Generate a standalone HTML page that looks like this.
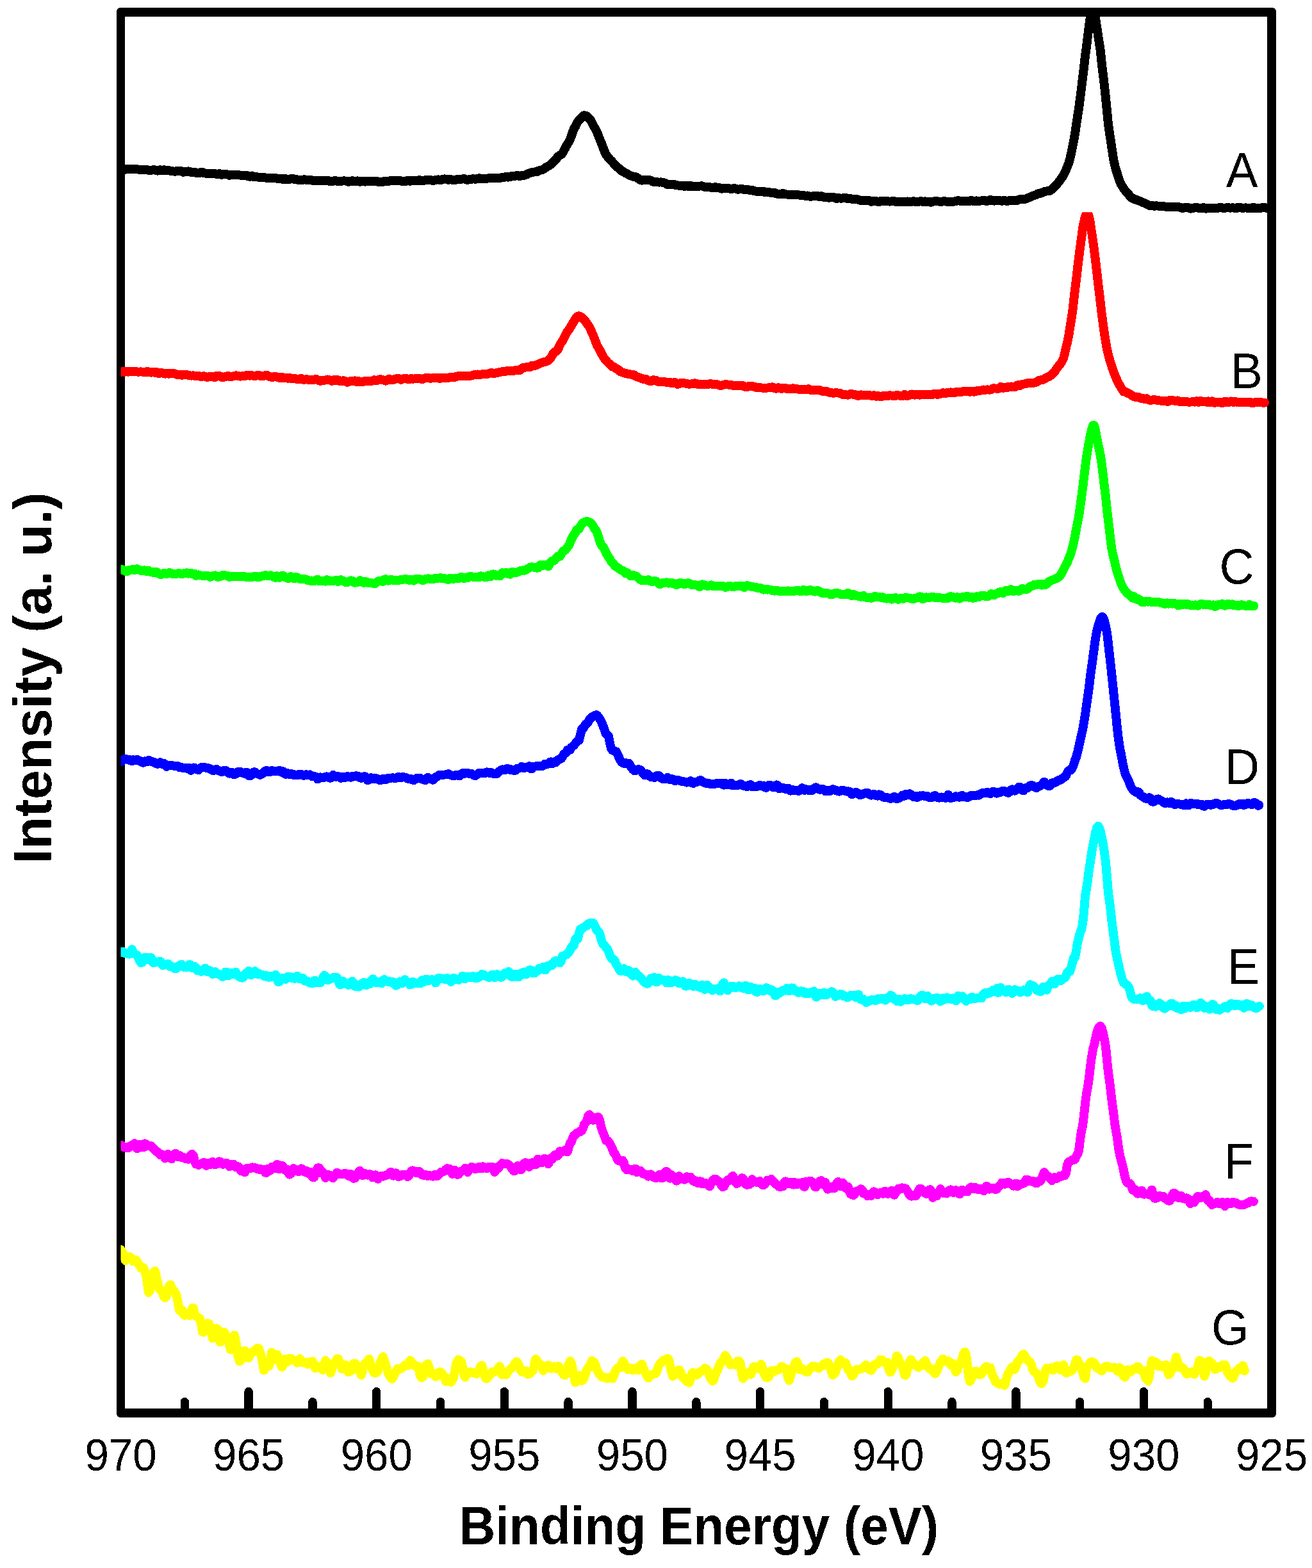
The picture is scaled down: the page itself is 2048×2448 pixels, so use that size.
<!DOCTYPE html>
<html lang="en"><head><meta charset="utf-8"><title>Binding Energy spectra</title>
<style>
html,body{margin:0;padding:0;background:#fff;}
body{width:2048px;height:2448px;overflow:hidden;}
svg{display:block;}
text{font-family:"Liberation Sans",sans-serif;fill:#000;}
.tick{font-size:69.8px;text-anchor:middle;}
.lab{font-size:78.5px;}
.ttl{font-weight:bold;text-anchor:middle;}
</style></head><body>
<svg width="2048" height="2448" viewBox="0 0 2048 2448">
<rect x="0" y="0" width="2048" height="2448" fill="#fff"/>
<defs>
<filter id="bin" x="0" y="0" width="2048" height="2448" filterUnits="userSpaceOnUse" color-interpolation-filters="sRGB"><feComponentTransfer><feFuncA type="discrete" tableValues="0 1"/></feComponentTransfer></filter>
<clipPath id="plot"><rect x="188.5" y="19.0" width="1796.5" height="2187.0"/></clipPath>
<clipPath id="clipB"><rect x="188.5" y="331.2" width="1796.5" height="1874.8"/></clipPath>
</defs>

<g shape-rendering="crispEdges">
<path fill="#000" fill-rule="evenodd" d="M188 12 H1986 A6 6 0 0 1 1992 18 V2207 A6 6 0 0 1 1986 2213 H188 A6 6 0 0 1 182 2207 V18 A6 6 0 0 1 188 12 Z M195 26 V2199 H1978 V26 Z"/>
<path d="M288.3 2206.0 V2188.7 M388.1 2206.0 V2172.7 M487.9 2206.0 V2188.7 M587.7 2206.0 V2172.7 M687.5 2206.0 V2188.7 M787.3 2206.0 V2172.7 M887.1 2206.0 V2188.7 M986.9 2206.0 V2172.7 M1086.8 2206.0 V2188.7 M1186.6 2206.0 V2172.7 M1286.4 2206.0 V2188.7 M1386.2 2206.0 V2172.7 M1486.0 2206.0 V2188.7 M1585.8 2206.0 V2172.7 M1685.6 2206.0 V2188.7 M1785.4 2206.0 V2172.7 M1885.2 2206.0 V2188.7" fill="none" stroke="#000" stroke-width="13.4" stroke-linecap="round"/>
</g>
<g fill="none" stroke-width="14" stroke-linejoin="round" stroke-linecap="round" shape-rendering="crispEdges">
<path clip-path="url(#plot)" stroke="#000000" d="M188.0 263.7 L190.0 263.0 L192.0 263.1 L194.0 263.7 L196.0 264.6 L198.0 263.9 L200.0 263.6 L202.0 263.6 L204.0 264.3 L206.0 264.4 L208.0 264.0 L210.0 264.0 L212.0 264.2 L214.0 264.4 L216.0 264.5 L218.0 264.8 L220.0 265.1 L222.0 264.8 L224.0 264.9 L226.0 265.0 L228.0 264.9 L230.0 265.2 L232.0 265.7 L234.0 265.5 L236.0 265.5 L238.0 265.5 L240.0 265.1 L242.0 265.5 L244.0 266.3 L246.0 266.6 L248.0 266.1 L250.0 265.3 L252.0 265.9 L254.0 265.7 L256.0 265.2 L258.0 266.1 L260.0 266.0 L262.0 265.5 L264.0 266.3 L266.0 266.9 L268.0 267.3 L270.0 267.4 L272.0 267.6 L274.0 267.6 L276.0 266.7 L278.0 266.8 L280.0 267.4 L282.0 266.9 L284.0 267.6 L286.0 268.7 L288.0 267.8 L290.0 267.6 L292.0 267.9 L294.0 267.4 L296.0 267.7 L298.0 268.5 L300.0 269.5 L302.0 269.4 L304.0 268.9 L306.0 269.9 L308.0 270.4 L310.0 270.5 L312.0 269.5 L314.0 268.9 L316.0 268.7 L318.0 270.0 L320.0 270.5 L322.0 270.6 L324.0 271.3 L326.0 271.3 L328.0 270.9 L330.0 271.0 L332.0 271.0 L334.0 271.0 L336.0 271.3 L338.0 271.7 L340.0 272.0 L342.0 271.1 L344.0 271.6 L346.0 272.7 L348.0 272.3 L350.0 272.2 L352.0 272.2 L354.0 272.2 L356.0 272.9 L358.0 273.8 L360.0 273.2 L362.0 272.8 L364.0 272.7 L366.0 273.3 L368.0 273.3 L370.0 273.0 L372.0 273.2 L374.0 273.4 L376.0 273.7 L378.0 274.0 L380.0 274.0 L382.0 273.8 L384.0 273.6 L386.0 274.4 L388.0 275.5 L390.0 275.7 L392.0 275.1 L394.0 274.5 L396.0 276.1 L398.0 276.5 L400.0 276.3 L402.0 276.4 L404.0 276.7 L406.0 277.2 L408.0 277.2 L410.0 277.0 L412.0 276.9 L414.0 277.4 L416.0 277.9 L418.0 278.3 L420.0 277.8 L422.0 277.6 L424.0 277.6 L426.0 278.2 L428.0 278.3 L430.0 278.1 L432.0 278.5 L434.0 279.0 L436.0 279.4 L438.0 278.9 L440.0 279.3 L442.0 280.2 L444.0 279.0 L446.0 279.1 L448.0 280.0 L450.0 280.0 L452.0 279.7 L454.0 279.1 L456.0 278.8 L458.0 279.3 L460.0 280.2 L462.0 280.0 L464.0 280.4 L466.0 281.1 L468.0 280.9 L470.0 281.0 L472.0 281.1 L474.0 280.4 L476.0 280.4 L478.0 280.8 L480.0 280.9 L482.0 280.8 L484.0 280.6 L486.0 281.3 L488.0 281.7 L490.0 281.8 L492.0 281.9 L494.0 281.9 L496.0 281.8 L498.0 281.6 L500.0 281.6 L502.0 281.6 L504.0 281.7 L506.0 281.9 L508.0 282.0 L510.0 281.6 L512.0 282.0 L514.0 282.8 L516.0 282.7 L518.0 282.7 L520.0 282.7 L522.0 282.1 L524.0 282.2 L526.0 282.8 L528.0 283.2 L530.0 283.3 L532.0 283.1 L534.0 282.6 L536.0 282.4 L538.0 282.4 L540.0 282.6 L542.0 283.2 L544.0 283.9 L546.0 283.3 L548.0 282.7 L550.0 282.3 L552.0 282.7 L554.0 283.1 L556.0 283.4 L558.0 282.4 L560.0 282.8 L562.0 283.9 L564.0 283.2 L566.0 283.1 L568.0 283.3 L570.0 283.6 L572.0 283.3 L574.0 282.6 L576.0 282.6 L578.0 282.8 L580.0 283.0 L582.0 282.9 L584.0 282.7 L586.0 282.5 L588.0 282.9 L590.0 283.6 L592.0 284.5 L594.0 284.3 L596.0 284.0 L598.0 283.7 L600.0 282.9 L602.0 282.7 L604.0 282.8 L606.0 282.8 L608.0 282.5 L610.0 282.2 L612.0 282.0 L614.0 282.0 L616.0 282.1 L618.0 282.3 L620.0 282.0 L622.0 281.6 L624.0 282.1 L626.0 282.6 L628.0 282.9 L630.0 282.5 L632.0 282.7 L634.0 283.0 L636.0 281.9 L638.0 282.0 L640.0 282.9 L642.0 282.4 L644.0 282.1 L646.0 281.9 L648.0 282.1 L650.0 282.2 L652.0 282.1 L654.0 281.2 L656.0 281.4 L658.0 282.1 L660.0 282.2 L662.0 281.8 L664.0 281.3 L666.0 281.5 L668.0 281.3 L670.0 281.0 L672.0 281.1 L674.0 281.5 L676.0 281.8 L678.0 281.5 L680.0 281.1 L682.0 280.6 L684.0 280.4 L686.0 280.7 L688.0 281.1 L690.0 280.2 L692.0 279.7 L694.0 279.4 L696.0 279.6 L698.0 280.1 L700.0 280.7 L702.0 280.2 L704.0 280.3 L706.0 280.7 L708.0 280.9 L710.0 280.9 L712.0 280.6 L714.0 280.0 L716.0 279.9 L718.0 280.2 L720.0 279.9 L722.0 279.4 L724.0 279.0 L726.0 279.8 L728.0 280.5 L730.0 280.9 L732.0 280.1 L734.0 279.8 L736.0 279.8 L738.0 279.3 L740.0 279.4 L742.0 279.7 L744.0 279.2 L746.0 278.7 L748.0 278.3 L750.0 279.1 L752.0 279.2 L754.0 278.9 L756.0 279.4 L758.0 279.3 L760.0 278.9 L762.0 278.4 L764.0 278.2 L766.0 278.1 L768.0 277.7 L770.0 277.5 L772.0 277.6 L774.0 277.5 L776.0 277.5 L778.0 277.6 L780.0 277.9 L782.0 277.6 L784.0 277.0 L786.0 277.0 L788.0 276.5 L790.0 275.8 L792.0 276.5 L794.0 276.5 L796.0 276.0 L798.0 275.3 L800.0 275.2 L802.0 275.3 L804.0 274.7 L806.0 274.1 L808.0 273.7 L810.0 274.7 L812.0 274.7 L814.0 274.2 L816.0 274.2 L818.0 273.9 L820.0 273.4 L822.0 272.5 L824.0 271.4 L826.0 270.4 L828.0 269.8 L830.0 269.3 L832.0 268.7 L834.0 268.5 L836.0 268.3 L838.0 268.1 L840.0 266.9 L842.0 266.1 L844.0 265.6 L846.0 265.3 L848.0 264.3 L850.0 263.0 L852.0 261.4 L854.0 260.3 L856.0 259.4 L858.0 258.1 L860.0 256.4 L862.0 254.4 L864.0 252.3 L866.0 250.5 L868.0 248.7 L870.0 245.6 L872.0 243.7 L874.0 242.4 L876.0 241.5 L878.0 239.1 L880.0 235.6 L882.0 231.9 L884.0 227.8 L886.0 224.4 L888.0 221.4 L890.0 217.3 L892.0 212.0 L894.0 205.9 L896.0 200.8 L898.0 198.1 L900.0 193.6 L902.0 190.0 L904.0 187.6 L906.0 185.3 L908.0 183.2 L910.0 181.1 L911.6 180.2 L914.0 180.5 L916.0 181.2 L918.0 183.3 L920.0 185.6 L922.0 187.4 L924.0 191.3 L926.0 195.8 L928.0 199.1 L930.0 202.2 L932.0 206.6 L934.0 211.5 L936.0 216.7 L938.0 221.6 L940.0 226.3 L942.0 231.9 L944.0 237.1 L946.0 241.3 L948.0 244.0 L950.0 246.4 L952.0 249.1 L954.0 250.7 L956.0 252.9 L958.0 255.2 L960.0 257.6 L962.0 259.6 L964.0 261.3 L966.0 262.6 L968.0 264.7 L970.0 266.8 L972.0 267.4 L974.0 268.6 L976.0 270.0 L978.0 270.8 L980.0 272.0 L982.0 273.2 L984.0 274.1 L986.0 274.9 L988.0 275.6 L990.0 275.8 L992.0 276.3 L994.0 276.9 L996.0 278.4 L998.0 280.0 L1000.0 281.3 L1002.0 281.6 L1004.0 281.2 L1006.0 280.7 L1008.0 280.7 L1010.0 280.9 L1012.0 281.2 L1014.0 281.1 L1016.0 281.8 L1018.0 282.9 L1020.0 284.0 L1022.0 284.1 L1024.0 283.9 L1026.0 284.3 L1028.0 284.5 L1030.0 284.5 L1032.0 284.4 L1034.0 284.7 L1036.0 285.3 L1038.0 285.6 L1040.0 286.8 L1042.0 288.2 L1044.0 288.5 L1046.0 288.4 L1048.0 288.0 L1050.0 287.6 L1052.0 288.0 L1054.0 288.8 L1056.0 289.0 L1058.0 289.4 L1060.0 289.7 L1062.0 289.8 L1064.0 289.7 L1066.0 289.8 L1068.0 290.8 L1070.0 290.6 L1072.0 289.8 L1074.0 290.8 L1076.0 290.7 L1078.0 289.9 L1080.0 290.8 L1082.0 291.0 L1084.0 290.9 L1086.0 291.3 L1088.0 291.3 L1090.0 290.9 L1092.0 290.6 L1094.0 290.4 L1096.0 290.4 L1098.0 291.3 L1100.0 291.8 L1102.0 292.1 L1104.0 292.2 L1106.0 292.2 L1108.0 292.2 L1110.0 292.7 L1112.0 293.1 L1114.0 293.2 L1116.0 292.2 L1118.0 292.4 L1120.0 293.1 L1122.0 292.7 L1124.0 293.5 L1126.0 294.7 L1128.0 294.4 L1130.0 294.2 L1132.0 294.1 L1134.0 293.8 L1136.0 294.0 L1138.0 294.3 L1140.0 294.7 L1142.0 294.8 L1144.0 294.5 L1146.0 294.1 L1148.0 294.5 L1150.0 295.4 L1152.0 295.7 L1154.0 295.5 L1156.0 295.1 L1158.0 295.1 L1160.0 295.6 L1162.0 296.1 L1164.0 296.2 L1166.0 296.2 L1168.0 296.2 L1170.0 296.7 L1172.0 296.8 L1174.0 296.8 L1176.0 297.7 L1178.0 298.3 L1180.0 298.6 L1182.0 298.6 L1184.0 298.7 L1186.0 298.7 L1188.0 298.5 L1190.0 298.6 L1192.0 299.0 L1194.0 300.4 L1196.0 300.5 L1198.0 299.9 L1200.0 299.9 L1202.0 300.5 L1204.0 301.2 L1206.0 301.1 L1208.0 301.1 L1210.0 301.3 L1212.0 302.5 L1214.0 302.7 L1216.0 302.5 L1218.0 303.3 L1220.0 302.8 L1222.0 301.6 L1224.0 302.9 L1226.0 303.4 L1228.0 303.5 L1230.0 303.5 L1232.0 303.8 L1234.0 304.1 L1236.0 304.3 L1238.0 304.3 L1240.0 304.2 L1242.0 303.9 L1244.0 304.0 L1246.0 304.3 L1248.0 304.6 L1250.0 304.7 L1252.0 304.7 L1254.0 305.0 L1256.0 305.5 L1258.0 305.9 L1260.0 305.5 L1262.0 305.8 L1264.0 306.6 L1266.0 306.7 L1268.0 306.5 L1270.0 306.2 L1272.0 306.5 L1274.0 306.1 L1276.0 305.6 L1278.0 307.0 L1280.0 306.9 L1282.0 306.1 L1284.0 306.8 L1286.0 307.7 L1288.0 308.4 L1290.0 308.1 L1292.0 308.3 L1294.0 308.7 L1296.0 308.3 L1298.0 308.3 L1300.0 308.5 L1302.0 308.2 L1304.0 309.0 L1306.0 310.1 L1308.0 309.4 L1310.0 309.3 L1312.0 309.6 L1314.0 309.6 L1316.0 309.3 L1318.0 308.7 L1320.0 309.0 L1322.0 309.7 L1324.0 310.4 L1326.0 309.8 L1328.0 310.1 L1330.0 310.8 L1332.0 311.2 L1334.0 311.3 L1336.0 311.1 L1338.0 311.1 L1340.0 311.8 L1342.0 312.6 L1344.0 312.6 L1346.0 312.6 L1348.0 312.6 L1350.0 313.3 L1352.0 313.5 L1354.0 313.3 L1356.0 313.0 L1358.0 313.7 L1360.0 314.9 L1362.0 314.4 L1364.0 314.2 L1366.0 314.3 L1368.0 314.2 L1370.0 314.7 L1372.0 315.4 L1374.0 314.2 L1376.0 313.8 L1378.0 313.9 L1380.0 313.9 L1382.0 313.8 L1384.0 313.6 L1386.0 314.3 L1388.0 314.5 L1390.0 314.5 L1392.0 314.4 L1394.0 314.3 L1396.0 314.2 L1398.0 314.9 L1400.0 315.1 L1402.0 315.0 L1404.0 315.1 L1406.0 315.2 L1408.0 315.2 L1410.0 315.0 L1412.0 314.8 L1414.0 314.6 L1416.0 314.5 L1418.0 314.8 L1420.0 315.3 L1422.0 314.9 L1424.0 314.6 L1426.0 314.3 L1428.0 314.7 L1430.0 314.9 L1432.0 314.9 L1434.0 314.8 L1436.0 314.4 L1438.0 314.1 L1440.0 314.8 L1442.0 314.8 L1444.0 314.5 L1446.0 314.8 L1448.0 314.6 L1450.0 314.5 L1452.0 315.6 L1454.0 315.6 L1456.0 314.9 L1458.0 314.4 L1460.0 314.3 L1462.0 314.5 L1464.0 314.4 L1466.0 314.6 L1468.0 315.0 L1470.0 314.7 L1472.0 314.4 L1474.0 314.1 L1476.0 314.4 L1478.0 314.8 L1480.0 315.2 L1482.0 315.2 L1484.0 315.0 L1486.0 314.8 L1488.0 314.7 L1490.0 314.4 L1492.0 314.0 L1494.0 313.4 L1496.0 313.3 L1498.0 313.5 L1500.0 314.2 L1502.0 314.4 L1504.0 314.3 L1506.0 314.4 L1508.0 314.2 L1510.0 313.9 L1512.0 314.4 L1514.0 313.9 L1516.0 313.0 L1518.0 313.6 L1520.0 314.0 L1522.0 314.3 L1524.0 313.4 L1526.0 313.6 L1528.0 314.3 L1530.0 313.6 L1532.0 313.4 L1534.0 313.3 L1536.0 312.7 L1538.0 313.1 L1540.0 314.0 L1542.0 313.5 L1544.0 312.7 L1546.0 312.0 L1548.0 312.9 L1550.0 313.4 L1552.0 313.6 L1554.0 312.9 L1556.0 312.7 L1558.0 312.7 L1560.0 313.0 L1562.0 313.4 L1564.0 313.7 L1566.0 313.3 L1568.0 313.2 L1570.0 313.5 L1572.0 313.8 L1574.0 313.5 L1576.0 313.0 L1578.0 313.1 L1580.0 313.1 L1582.0 313.0 L1584.0 312.6 L1586.0 312.6 L1588.0 312.7 L1590.0 311.8 L1592.0 311.2 L1594.0 310.7 L1596.0 310.8 L1598.0 310.8 L1600.0 310.7 L1602.0 310.1 L1604.0 309.3 L1606.0 308.6 L1608.0 307.9 L1610.0 306.8 L1612.0 305.6 L1614.0 305.3 L1616.0 304.6 L1618.0 303.6 L1620.0 302.4 L1622.0 301.9 L1624.0 301.7 L1626.0 301.0 L1628.0 300.2 L1630.0 299.4 L1632.0 298.6 L1634.0 298.4 L1636.0 298.4 L1638.0 298.1 L1640.0 297.0 L1642.0 295.5 L1644.0 293.5 L1646.0 291.5 L1648.0 289.7 L1650.0 287.2 L1652.0 285.0 L1654.0 282.6 L1656.0 279.6 L1658.0 276.7 L1660.0 273.6 L1662.0 269.8 L1664.0 265.3 L1666.0 260.4 L1668.0 255.4 L1670.0 248.6 L1672.0 240.2 L1674.0 229.9 L1676.0 220.0 L1678.0 208.9 L1680.0 195.3 L1682.0 182.1 L1684.0 169.0 L1686.0 154.2 L1688.0 138.2 L1690.0 121.6 L1692.0 105.3 L1694.0 87.2 L1696.0 72.8 L1698.0 56.0 L1700.0 40.0 L1702.0 25.9 L1704.0 1.9 L1706.0 -12.9 L1708.0 4.1 L1710.0 27.8 L1712.0 41.5 L1714.0 55.0 L1716.0 67.5 L1718.0 81.2 L1720.0 101.1 L1722.0 117.1 L1724.0 134.1 L1726.0 153.5 L1728.0 173.3 L1730.0 193.8 L1732.0 208.1 L1734.0 220.8 L1736.0 234.5 L1738.0 247.7 L1740.0 257.5 L1742.0 265.0 L1744.0 271.1 L1746.0 277.4 L1748.0 283.3 L1750.0 288.0 L1752.0 291.1 L1754.0 294.2 L1756.0 297.1 L1758.0 299.6 L1760.0 301.7 L1762.0 303.5 L1764.0 306.7 L1766.0 308.5 L1768.0 309.5 L1770.0 310.6 L1772.0 311.4 L1774.0 312.0 L1776.0 312.9 L1778.0 313.5 L1780.0 314.1 L1782.0 315.3 L1784.0 316.1 L1786.0 316.8 L1788.0 317.8 L1790.0 318.7 L1792.0 319.7 L1794.0 320.8 L1796.0 320.9 L1798.0 320.5 L1800.0 321.5 L1802.0 321.7 L1804.0 321.4 L1806.0 321.4 L1808.0 321.6 L1810.0 322.1 L1812.0 322.1 L1814.0 322.1 L1816.0 322.1 L1818.0 322.5 L1820.0 322.7 L1822.0 322.7 L1824.0 322.9 L1826.0 323.2 L1828.0 323.4 L1830.0 323.0 L1832.0 322.9 L1834.0 323.0 L1836.0 322.9 L1838.0 323.1 L1840.0 323.3 L1842.0 323.7 L1844.0 324.3 L1846.0 325.0 L1848.0 324.4 L1850.0 324.0 L1852.0 323.7 L1854.0 323.7 L1856.0 324.5 L1858.0 325.7 L1860.0 325.4 L1862.0 325.0 L1864.0 324.5 L1866.0 324.2 L1868.0 324.2 L1870.0 324.5 L1872.0 325.0 L1874.0 325.4 L1876.0 325.5 L1878.0 324.1 L1880.0 324.5 L1882.0 325.7 L1884.0 325.4 L1886.0 325.2 L1888.0 325.2 L1890.0 325.3 L1892.0 325.2 L1894.0 324.9 L1896.0 324.9 L1898.0 325.0 L1900.0 325.2 L1902.0 324.6 L1904.0 324.1 L1906.0 323.8 L1908.0 324.5 L1910.0 324.8 L1912.0 324.9 L1914.0 324.4 L1916.0 324.2 L1918.0 324.3 L1920.0 324.6 L1922.0 324.5 L1924.0 324.3 L1926.0 324.6 L1928.0 324.9 L1930.0 325.2 L1932.0 323.9 L1934.0 323.7 L1936.0 324.1 L1938.0 324.6 L1940.0 324.8 L1942.0 324.6 L1944.0 324.4 L1946.0 324.5 L1948.0 324.9 L1950.0 324.9 L1952.0 325.0 L1954.0 325.1 L1956.0 323.9 L1958.0 324.1 L1960.0 325.0 L1962.0 324.9 L1964.0 325.0 L1966.0 325.2 L1968.0 324.8 L1970.0 324.3 L1972.0 324.0 L1974.0 324.1 L1976.0 324.6 L1978.0 325.1 L1980.0 324.3 L1982.0 324.3 L1984.0 324.6 L1986.0 325.0"/>
<path clip-path="url(#clipB)" stroke="#ff0000" d="M188.0 581.1 L190.0 580.4 L192.0 580.2 L194.0 580.7 L196.0 580.1 L198.0 580.0 L200.0 580.6 L202.0 579.8 L204.0 579.6 L206.0 580.5 L208.0 580.0 L210.0 579.8 L212.0 580.0 L214.0 580.5 L216.0 580.7 L218.0 580.5 L220.0 580.4 L222.0 580.6 L224.0 581.0 L226.0 581.2 L228.0 580.8 L230.0 579.7 L232.0 580.7 L234.0 581.4 L236.0 581.6 L238.0 581.0 L240.0 581.0 L242.0 581.8 L244.0 581.1 L246.0 581.4 L248.0 583.1 L250.0 582.5 L252.0 582.2 L254.0 582.5 L256.0 583.3 L258.0 583.6 L260.0 583.0 L262.0 583.5 L264.0 583.6 L266.0 582.9 L268.0 583.2 L270.0 583.4 L272.0 583.1 L274.0 583.8 L276.0 584.6 L278.0 585.5 L280.0 585.3 L282.0 585.3 L284.0 585.8 L286.0 585.0 L288.0 584.6 L290.0 584.8 L292.0 585.2 L294.0 585.7 L296.0 586.4 L298.0 586.5 L300.0 586.5 L302.0 586.4 L304.0 586.9 L306.0 587.1 L308.0 586.8 L310.0 587.0 L312.0 587.4 L314.0 588.3 L316.0 587.5 L318.0 587.3 L320.0 587.8 L322.0 588.6 L324.0 588.8 L326.0 588.1 L328.0 588.4 L330.0 588.4 L332.0 587.7 L334.0 589.0 L336.0 588.9 L338.0 586.7 L340.0 587.1 L342.0 587.4 L344.0 587.4 L346.0 588.8 L348.0 589.2 L350.0 588.5 L352.0 588.1 L354.0 587.6 L356.0 587.0 L358.0 587.8 L360.0 588.1 L362.0 587.9 L364.0 587.4 L366.0 586.9 L368.0 586.4 L370.0 586.5 L372.0 586.8 L374.0 587.5 L376.0 587.5 L378.0 587.4 L380.0 587.2 L382.0 587.0 L384.0 586.5 L386.0 585.5 L388.0 586.3 L390.0 586.6 L392.0 585.9 L394.0 586.4 L396.0 586.8 L398.0 587.0 L400.0 586.4 L402.0 586.0 L404.0 585.8 L406.0 586.8 L408.0 587.4 L410.0 587.1 L412.0 586.7 L414.0 586.2 L416.0 585.5 L418.0 586.7 L420.0 587.7 L422.0 588.3 L424.0 588.8 L426.0 588.7 L428.0 588.0 L430.0 588.2 L432.0 588.5 L434.0 588.8 L436.0 589.7 L438.0 589.8 L440.0 589.0 L442.0 589.7 L444.0 590.0 L446.0 589.8 L448.0 590.5 L450.0 590.6 L452.0 589.8 L454.0 590.8 L456.0 591.3 L458.0 590.9 L460.0 591.1 L462.0 591.5 L464.0 592.0 L466.0 592.4 L468.0 592.0 L470.0 590.6 L472.0 591.9 L474.0 592.7 L476.0 592.6 L478.0 592.2 L480.0 592.4 L482.0 593.4 L484.0 592.9 L486.0 592.9 L488.0 593.5 L490.0 592.7 L492.0 592.2 L494.0 592.1 L496.0 593.2 L498.0 594.1 L500.0 594.7 L502.0 594.0 L504.0 593.7 L506.0 593.9 L508.0 593.4 L510.0 592.8 L512.0 592.5 L514.0 593.1 L516.0 593.9 L518.0 594.9 L520.0 593.4 L522.0 592.9 L524.0 593.7 L526.0 593.2 L528.0 593.4 L530.0 594.7 L532.0 595.3 L534.0 595.3 L536.0 594.3 L538.0 594.9 L540.0 595.7 L542.0 596.8 L544.0 596.2 L546.0 595.6 L548.0 595.0 L550.0 595.0 L552.0 594.8 L554.0 594.4 L556.0 595.7 L558.0 596.1 L560.0 595.3 L562.0 596.0 L564.0 596.4 L566.0 596.2 L568.0 595.4 L570.0 594.8 L572.0 594.8 L574.0 595.3 L576.0 595.4 L578.0 594.9 L580.0 594.8 L582.0 594.3 L584.0 593.1 L586.0 594.2 L588.0 594.4 L590.0 593.3 L592.0 592.4 L594.0 592.2 L596.0 592.9 L598.0 593.3 L600.0 593.8 L602.0 594.6 L604.0 593.3 L606.0 592.2 L608.0 591.5 L610.0 593.1 L612.0 593.5 L614.0 592.4 L616.0 592.0 L618.0 591.6 L620.0 591.0 L622.0 590.9 L624.0 591.5 L626.0 592.7 L628.0 591.9 L630.0 591.2 L632.0 591.0 L634.0 591.0 L636.0 591.4 L638.0 592.5 L640.0 591.4 L642.0 591.0 L644.0 591.6 L646.0 591.5 L648.0 591.3 L650.0 591.2 L652.0 590.6 L654.0 590.6 L656.0 591.4 L658.0 591.9 L660.0 591.8 L662.0 590.8 L664.0 590.3 L666.0 589.9 L668.0 589.7 L670.0 590.4 L672.0 590.7 L674.0 590.4 L676.0 590.4 L678.0 590.4 L680.0 590.4 L682.0 589.6 L684.0 589.6 L686.0 590.8 L688.0 590.5 L690.0 590.2 L692.0 590.0 L694.0 590.0 L696.0 590.2 L698.0 590.4 L700.0 589.9 L702.0 589.2 L704.0 588.6 L706.0 589.4 L708.0 589.5 L710.0 588.4 L712.0 588.0 L714.0 587.5 L716.0 586.9 L718.0 587.4 L720.0 587.4 L722.0 586.7 L724.0 586.7 L726.0 586.8 L728.0 587.1 L730.0 586.7 L732.0 586.6 L734.0 586.9 L736.0 586.4 L738.0 585.8 L740.0 585.2 L742.0 585.0 L744.0 584.8 L746.0 584.5 L748.0 584.9 L750.0 584.9 L752.0 584.4 L754.0 584.0 L756.0 584.0 L758.0 584.5 L760.0 584.0 L762.0 583.4 L764.0 582.9 L766.0 582.2 L768.0 582.2 L770.0 583.0 L772.0 582.7 L774.0 582.4 L776.0 582.1 L778.0 581.6 L780.0 581.1 L782.0 580.5 L784.0 580.4 L786.0 580.2 L788.0 580.0 L790.0 579.5 L792.0 579.2 L794.0 579.0 L796.0 578.7 L798.0 578.6 L800.0 578.9 L802.0 578.7 L804.0 578.4 L806.0 577.7 L808.0 578.3 L810.0 578.5 L812.0 578.0 L814.0 575.8 L816.0 574.4 L818.0 573.7 L820.0 573.6 L822.0 573.3 L824.0 572.7 L826.0 573.4 L828.0 573.0 L830.0 571.0 L832.0 571.2 L834.0 571.0 L836.0 570.3 L838.0 569.8 L840.0 568.9 L842.0 567.8 L844.0 566.9 L846.0 566.2 L848.0 565.5 L850.0 565.2 L852.0 564.6 L854.0 563.9 L856.0 562.5 L858.0 560.6 L860.0 558.2 L862.0 554.9 L864.0 551.1 L866.0 549.2 L868.0 548.5 L870.0 547.0 L872.0 543.1 L874.0 538.4 L876.0 535.0 L878.0 532.4 L880.0 528.3 L882.0 524.2 L884.0 520.2 L886.0 517.5 L888.0 514.8 L890.0 511.5 L892.0 508.3 L894.0 504.7 L896.0 501.6 L898.0 498.2 L900.0 495.1 L902.0 493.7 L903.6 493.3 L906.0 494.1 L908.0 495.5 L910.0 497.3 L912.0 499.2 L914.0 501.8 L916.0 504.8 L918.0 507.8 L920.0 510.3 L922.0 514.7 L924.0 519.1 L926.0 523.7 L928.0 528.8 L930.0 533.9 L932.0 539.3 L934.0 542.7 L936.0 546.1 L938.0 549.8 L940.0 553.9 L942.0 557.6 L944.0 560.3 L946.0 562.8 L948.0 564.9 L950.0 567.1 L952.0 568.6 L954.0 570.4 L956.0 572.5 L958.0 573.0 L960.0 574.0 L962.0 575.7 L964.0 576.5 L966.0 577.8 L968.0 580.2 L970.0 580.9 L972.0 581.6 L974.0 582.2 L976.0 582.8 L978.0 583.3 L980.0 583.8 L982.0 584.0 L984.0 584.4 L986.0 584.9 L988.0 584.9 L990.0 585.5 L992.0 587.2 L994.0 588.2 L996.0 588.8 L998.0 589.4 L1000.0 590.4 L1002.0 591.0 L1004.0 592.0 L1006.0 591.7 L1008.0 591.6 L1010.0 593.0 L1012.0 594.3 L1014.0 594.7 L1016.0 595.2 L1018.0 593.9 L1020.0 593.3 L1022.0 593.7 L1024.0 593.7 L1026.0 594.6 L1028.0 596.3 L1030.0 596.1 L1032.0 595.9 L1034.0 595.8 L1036.0 595.7 L1038.0 596.1 L1040.0 596.9 L1042.0 596.7 L1044.0 596.7 L1046.0 597.0 L1048.0 598.2 L1050.0 598.4 L1052.0 597.3 L1054.0 597.2 L1056.0 598.1 L1058.0 600.0 L1060.0 598.9 L1062.0 598.2 L1064.0 598.1 L1066.0 598.1 L1068.0 598.3 L1070.0 598.6 L1072.0 599.2 L1074.0 599.5 L1076.0 599.6 L1078.0 599.5 L1080.0 599.3 L1082.0 599.0 L1084.0 598.4 L1086.0 598.5 L1088.0 599.5 L1090.0 600.2 L1092.0 600.5 L1094.0 600.3 L1096.0 599.8 L1098.0 599.7 L1100.0 600.2 L1102.0 599.7 L1104.0 599.5 L1106.0 599.7 L1108.0 599.2 L1110.0 599.1 L1112.0 599.7 L1114.0 600.0 L1116.0 600.1 L1118.0 600.0 L1120.0 600.6 L1122.0 601.2 L1124.0 601.9 L1126.0 601.7 L1128.0 601.3 L1130.0 600.5 L1132.0 600.4 L1134.0 600.4 L1136.0 600.5 L1138.0 600.5 L1140.0 600.7 L1142.0 601.4 L1144.0 601.8 L1146.0 602.0 L1148.0 602.0 L1150.0 602.1 L1152.0 602.3 L1154.0 602.4 L1156.0 602.4 L1158.0 602.3 L1160.0 602.1 L1162.0 603.5 L1164.0 604.2 L1166.0 604.0 L1168.0 603.1 L1170.0 602.7 L1172.0 602.8 L1174.0 603.1 L1176.0 603.5 L1178.0 604.0 L1180.0 604.7 L1182.0 605.2 L1184.0 605.2 L1186.0 605.3 L1188.0 605.4 L1190.0 605.6 L1192.0 605.7 L1194.0 605.7 L1196.0 605.6 L1198.0 605.5 L1200.0 605.4 L1202.0 605.2 L1204.0 604.5 L1206.0 604.4 L1208.0 605.4 L1210.0 606.5 L1212.0 606.6 L1214.0 605.4 L1216.0 605.4 L1218.0 605.8 L1220.0 606.8 L1222.0 606.4 L1224.0 606.1 L1226.0 605.9 L1228.0 606.9 L1230.0 607.4 L1232.0 607.0 L1234.0 607.1 L1236.0 606.9 L1238.0 606.3 L1240.0 606.9 L1242.0 607.3 L1244.0 607.3 L1246.0 607.6 L1248.0 607.9 L1250.0 608.2 L1252.0 608.3 L1254.0 608.2 L1256.0 607.8 L1258.0 608.2 L1260.0 608.1 L1262.0 607.2 L1264.0 608.2 L1266.0 609.0 L1268.0 609.2 L1270.0 608.9 L1272.0 608.7 L1274.0 608.7 L1276.0 609.3 L1278.0 609.5 L1280.0 609.1 L1282.0 610.1 L1284.0 610.8 L1286.0 611.1 L1288.0 610.7 L1290.0 610.9 L1292.0 611.7 L1294.0 612.5 L1296.0 613.1 L1298.0 613.3 L1300.0 613.6 L1302.0 613.6 L1304.0 613.2 L1306.0 613.3 L1308.0 613.5 L1310.0 613.7 L1312.0 614.4 L1314.0 615.3 L1316.0 616.4 L1318.0 616.3 L1320.0 616.3 L1322.0 616.5 L1324.0 616.6 L1326.0 616.0 L1328.0 614.5 L1330.0 615.3 L1332.0 615.8 L1334.0 615.8 L1336.0 616.7 L1338.0 617.5 L1340.0 617.9 L1342.0 616.8 L1344.0 616.4 L1346.0 616.9 L1348.0 617.3 L1350.0 617.4 L1352.0 616.9 L1354.0 616.9 L1356.0 617.0 L1358.0 617.1 L1360.0 617.9 L1362.0 618.1 L1364.0 617.2 L1366.0 618.2 L1368.0 618.7 L1370.0 618.2 L1372.0 618.5 L1374.0 618.9 L1376.0 619.4 L1378.0 618.3 L1380.0 617.6 L1382.0 617.5 L1384.0 618.1 L1386.0 618.2 L1388.0 617.4 L1390.0 617.4 L1392.0 617.6 L1394.0 617.9 L1396.0 618.0 L1398.0 617.7 L1400.0 616.9 L1402.0 617.2 L1404.0 617.6 L1406.0 618.0 L1408.0 618.3 L1410.0 617.7 L1412.0 615.9 L1414.0 617.3 L1416.0 618.0 L1418.0 617.7 L1420.0 616.6 L1422.0 615.8 L1424.0 615.5 L1426.0 616.3 L1428.0 616.6 L1430.0 616.0 L1432.0 616.2 L1434.0 616.4 L1436.0 616.7 L1438.0 616.0 L1440.0 615.6 L1442.0 615.8 L1444.0 615.8 L1446.0 615.9 L1448.0 616.0 L1450.0 616.4 L1452.0 616.5 L1454.0 616.4 L1456.0 615.6 L1458.0 614.9 L1460.0 614.6 L1462.0 615.7 L1464.0 615.9 L1466.0 615.0 L1468.0 614.7 L1470.0 614.2 L1472.0 613.3 L1474.0 614.1 L1476.0 614.2 L1478.0 613.2 L1480.0 613.2 L1482.0 613.0 L1484.0 612.4 L1486.0 612.7 L1488.0 613.0 L1490.0 613.1 L1492.0 612.3 L1494.0 611.8 L1496.0 612.0 L1498.0 612.3 L1500.0 612.2 L1502.0 611.4 L1504.0 611.2 L1506.0 611.2 L1508.0 611.3 L1510.0 610.9 L1512.0 611.0 L1514.0 611.9 L1516.0 611.0 L1518.0 610.8 L1520.0 611.6 L1522.0 611.5 L1524.0 610.9 L1526.0 609.6 L1528.0 609.9 L1530.0 609.9 L1532.0 609.4 L1534.0 608.8 L1536.0 608.5 L1538.0 608.7 L1540.0 608.5 L1542.0 608.4 L1544.0 608.6 L1546.0 608.5 L1548.0 607.8 L1550.0 606.4 L1552.0 606.4 L1554.0 606.5 L1556.0 606.7 L1558.0 606.8 L1560.0 606.0 L1562.0 603.9 L1564.0 605.3 L1566.0 605.7 L1568.0 604.7 L1570.0 605.3 L1572.0 605.2 L1574.0 604.0 L1576.0 603.6 L1578.0 603.5 L1580.0 603.8 L1582.0 604.2 L1584.0 604.0 L1586.0 603.1 L1588.0 601.5 L1590.0 601.0 L1592.0 602.1 L1594.0 600.6 L1596.0 599.6 L1598.0 599.6 L1600.0 599.2 L1602.0 598.8 L1604.0 598.1 L1606.0 598.2 L1608.0 598.1 L1610.0 598.0 L1612.0 597.8 L1614.0 597.6 L1616.0 597.4 L1618.0 596.5 L1620.0 595.3 L1622.0 593.8 L1624.0 593.5 L1626.0 593.2 L1628.0 592.8 L1630.0 591.8 L1632.0 590.6 L1634.0 589.2 L1636.0 588.5 L1638.0 587.6 L1640.0 586.4 L1642.0 584.8 L1644.0 582.9 L1646.0 580.9 L1648.0 577.6 L1650.0 574.6 L1652.0 571.9 L1654.0 569.7 L1656.0 567.0 L1658.0 563.8 L1660.0 559.4 L1662.0 551.9 L1664.0 542.5 L1666.0 534.9 L1668.0 525.4 L1670.0 512.4 L1672.0 500.2 L1674.0 487.7 L1676.0 469.8 L1678.0 452.5 L1680.0 437.1 L1682.0 419.2 L1684.0 402.4 L1686.0 387.0 L1688.0 372.1 L1690.0 356.5 L1692.0 346.5 L1694.0 338.2 L1696.0 333.0 L1697.4 331.9 L1700.0 338.2 L1702.0 348.4 L1704.0 362.4 L1706.0 375.8 L1708.0 390.3 L1710.0 406.7 L1712.0 423.1 L1714.0 440.9 L1716.0 457.5 L1718.0 474.4 L1720.0 492.3 L1722.0 506.5 L1724.0 520.7 L1726.0 533.9 L1728.0 545.0 L1730.0 553.6 L1732.0 561.2 L1734.0 567.4 L1736.0 574.0 L1738.0 579.5 L1740.0 584.7 L1742.0 589.7 L1744.0 594.2 L1746.0 598.3 L1748.0 602.0 L1750.0 605.5 L1752.0 608.6 L1754.0 611.5 L1756.0 611.7 L1758.0 612.4 L1760.0 613.9 L1762.0 614.2 L1764.0 615.1 L1766.0 616.9 L1768.0 618.2 L1770.0 619.1 L1772.0 619.8 L1774.0 619.5 L1776.0 619.6 L1778.0 620.3 L1780.0 621.5 L1782.0 622.1 L1784.0 621.8 L1786.0 622.7 L1788.0 623.0 L1790.0 622.3 L1792.0 623.7 L1794.0 624.6 L1796.0 624.6 L1798.0 624.6 L1800.0 624.3 L1802.0 623.9 L1804.0 624.4 L1806.0 624.8 L1808.0 625.2 L1810.0 625.4 L1812.0 625.6 L1814.0 625.5 L1816.0 625.6 L1818.0 625.8 L1820.0 626.2 L1822.0 626.9 L1824.0 626.6 L1826.0 624.9 L1828.0 625.1 L1830.0 625.4 L1832.0 625.4 L1834.0 625.8 L1836.0 625.9 L1838.0 625.4 L1840.0 626.6 L1842.0 627.3 L1844.0 627.1 L1846.0 627.0 L1848.0 626.9 L1850.0 626.7 L1852.0 627.2 L1854.0 627.5 L1856.0 627.5 L1858.0 627.6 L1860.0 627.4 L1862.0 626.9 L1864.0 627.5 L1866.0 627.5 L1868.0 626.3 L1870.0 627.6 L1872.0 627.7 L1874.0 625.8 L1876.0 626.5 L1878.0 626.9 L1880.0 626.6 L1882.0 627.5 L1884.0 627.6 L1886.0 626.4 L1888.0 628.0 L1890.0 628.2 L1892.0 626.4 L1894.0 628.1 L1896.0 628.8 L1898.0 628.0 L1900.0 627.7 L1902.0 627.7 L1904.0 627.9 L1906.0 628.8 L1908.0 629.1 L1910.0 628.4 L1912.0 626.8 L1914.0 626.7 L1916.0 628.5 L1918.0 628.2 L1920.0 627.5 L1922.0 626.5 L1924.0 627.6 L1926.0 627.9 L1928.0 626.9 L1930.0 627.5 L1932.0 628.0 L1934.0 628.1 L1936.0 627.7 L1938.0 627.7 L1940.0 628.4 L1942.0 627.7 L1944.0 627.5 L1946.0 628.2 L1948.0 627.9 L1950.0 627.8 L1952.0 628.0 L1954.0 629.1 L1956.0 629.4 L1958.0 628.4 L1960.0 627.8 L1962.0 627.7 L1964.0 628.3 L1966.0 628.0 L1968.0 628.0 L1970.0 628.5 L1972.0 628.6 L1974.0 628.7"/>
<path clip-path="url(#plot)" stroke="#00ff00" d="M188.0 889.2 L190.0 888.8 L192.0 890.1 L194.0 890.9 L196.0 891.7 L198.0 892.3 L200.0 891.2 L202.0 889.8 L204.0 889.7 L206.0 889.1 L208.0 889.0 L210.0 890.4 L212.0 889.4 L214.0 888.1 L216.0 889.1 L218.0 890.0 L220.0 890.8 L222.0 891.1 L224.0 890.6 L226.0 890.3 L228.0 891.9 L230.0 891.5 L232.0 891.0 L234.0 892.5 L236.0 893.0 L238.0 893.3 L240.0 894.1 L242.0 893.4 L244.0 892.7 L246.0 894.2 L248.0 895.8 L250.0 897.0 L252.0 896.8 L254.0 895.8 L256.0 894.8 L258.0 895.5 L260.0 895.9 L262.0 895.7 L264.0 894.1 L266.0 894.4 L268.0 895.5 L270.0 896.4 L272.0 896.5 L274.0 896.3 L276.0 895.7 L278.0 895.3 L280.0 895.1 L282.0 895.8 L284.0 895.8 L286.0 895.5 L288.0 895.1 L290.0 894.5 L292.0 894.3 L294.0 895.6 L296.0 895.2 L298.0 894.7 L300.0 896.1 L302.0 895.9 L304.0 895.9 L306.0 898.8 L308.0 898.4 L310.0 897.4 L312.0 898.3 L314.0 898.5 L316.0 898.5 L318.0 898.9 L320.0 899.1 L322.0 899.2 L324.0 898.9 L326.0 899.8 L328.0 900.7 L330.0 900.3 L332.0 899.4 L334.0 898.6 L336.0 898.4 L338.0 899.6 L340.0 900.9 L342.0 900.3 L344.0 899.7 L346.0 899.0 L348.0 897.8 L350.0 898.0 L352.0 898.5 L354.0 898.5 L356.0 899.6 L358.0 900.7 L360.0 900.1 L362.0 899.9 L364.0 899.9 L366.0 900.2 L368.0 900.4 L370.0 900.5 L372.0 900.2 L374.0 900.1 L376.0 900.0 L378.0 899.6 L380.0 899.7 L382.0 900.2 L384.0 900.7 L386.0 900.6 L388.0 900.5 L390.0 900.9 L392.0 900.9 L394.0 900.7 L396.0 900.4 L398.0 899.7 L400.0 899.5 L402.0 901.2 L404.0 901.0 L406.0 900.2 L408.0 899.8 L410.0 899.3 L412.0 898.7 L414.0 898.1 L416.0 898.6 L418.0 899.2 L420.0 898.7 L422.0 898.4 L424.0 898.5 L426.0 900.0 L428.0 901.4 L430.0 901.9 L432.0 899.2 L434.0 900.2 L436.0 901.8 L438.0 900.1 L440.0 898.9 L442.0 898.5 L444.0 900.6 L446.0 901.4 L448.0 901.9 L450.0 903.2 L452.0 901.8 L454.0 900.2 L456.0 901.3 L458.0 902.7 L460.0 903.3 L462.0 900.9 L464.0 901.4 L466.0 902.9 L468.0 903.7 L470.0 904.1 L472.0 904.2 L474.0 903.6 L476.0 904.1 L478.0 904.9 L480.0 905.8 L482.0 906.3 L484.0 906.6 L486.0 906.5 L488.0 906.8 L490.0 907.1 L492.0 906.2 L494.0 905.2 L496.0 905.0 L498.0 907.3 L500.0 907.5 L502.0 907.0 L504.0 906.7 L506.0 907.3 L508.0 907.6 L510.0 905.1 L512.0 905.9 L514.0 907.4 L516.0 906.6 L518.0 906.7 L520.0 906.9 L522.0 906.6 L524.0 906.1 L526.0 906.0 L528.0 907.9 L530.0 906.7 L532.0 905.1 L534.0 906.4 L536.0 907.0 L538.0 907.6 L540.0 909.2 L542.0 909.1 L544.0 908.3 L546.0 907.0 L548.0 906.4 L550.0 906.7 L552.0 909.1 L554.0 909.6 L556.0 909.4 L558.0 909.5 L560.0 907.8 L562.0 906.3 L564.0 907.9 L566.0 909.3 L568.0 909.9 L570.0 907.8 L572.0 908.5 L574.0 909.9 L576.0 909.8 L578.0 910.0 L580.0 910.3 L582.0 910.6 L584.0 911.0 L586.0 910.9 L588.0 909.0 L590.0 907.6 L592.0 906.7 L594.0 906.5 L596.0 907.5 L598.0 907.8 L600.0 904.6 L602.0 904.3 L604.0 905.3 L606.0 906.6 L608.0 906.0 L610.0 905.0 L612.0 905.1 L614.0 905.7 L616.0 906.3 L618.0 905.7 L620.0 906.0 L622.0 906.3 L624.0 905.5 L626.0 905.1 L628.0 904.8 L630.0 904.6 L632.0 904.2 L634.0 904.1 L636.0 905.1 L638.0 905.6 L640.0 905.6 L642.0 904.6 L644.0 905.6 L646.0 906.5 L648.0 904.4 L650.0 904.0 L652.0 904.1 L654.0 903.9 L656.0 904.5 L658.0 905.4 L660.0 906.0 L662.0 905.4 L664.0 904.4 L666.0 903.6 L668.0 903.4 L670.0 903.5 L672.0 904.4 L674.0 904.4 L676.0 904.0 L678.0 903.2 L680.0 903.2 L682.0 903.3 L684.0 902.8 L686.0 902.4 L688.0 902.2 L690.0 903.0 L692.0 903.2 L694.0 903.3 L696.0 903.8 L698.0 904.5 L700.0 904.8 L702.0 903.0 L704.0 903.1 L706.0 903.6 L708.0 903.8 L710.0 903.2 L712.0 902.6 L714.0 903.3 L716.0 903.0 L718.0 902.2 L720.0 900.8 L722.0 901.9 L724.0 903.1 L726.0 901.7 L728.0 901.9 L730.0 902.0 L732.0 900.3 L734.0 900.0 L736.0 900.3 L738.0 900.5 L740.0 900.9 L742.0 901.3 L744.0 901.2 L746.0 901.3 L748.0 901.1 L750.0 899.4 L752.0 899.5 L754.0 900.3 L756.0 900.7 L758.0 901.1 L760.0 900.8 L762.0 898.5 L764.0 899.2 L766.0 900.0 L768.0 896.9 L770.0 896.4 L772.0 897.0 L774.0 898.7 L776.0 898.5 L778.0 898.0 L780.0 899.5 L782.0 897.1 L784.0 894.3 L786.0 895.5 L788.0 894.6 L790.0 893.7 L792.0 894.6 L794.0 896.1 L796.0 896.6 L798.0 893.3 L800.0 893.0 L802.0 893.8 L804.0 894.1 L806.0 893.7 L808.0 893.1 L810.0 892.4 L812.0 891.5 L814.0 890.6 L816.0 890.4 L818.0 890.6 L820.0 890.5 L822.0 889.0 L824.0 887.8 L826.0 886.7 L828.0 885.5 L830.0 885.3 L832.0 885.5 L834.0 885.5 L836.0 886.0 L838.0 886.6 L840.0 886.6 L842.0 883.9 L844.0 881.6 L846.0 883.3 L848.0 882.8 L850.0 881.8 L852.0 881.9 L854.0 883.4 L856.0 884.2 L858.0 880.2 L860.0 877.4 L862.0 875.8 L864.0 875.7 L866.0 874.2 L868.0 871.7 L870.0 868.8 L872.0 868.7 L874.0 868.6 L876.0 865.1 L878.0 862.0 L880.0 859.7 L882.0 859.2 L884.0 856.9 L886.0 853.9 L888.0 851.4 L890.0 846.9 L892.0 842.1 L894.0 837.8 L896.0 834.7 L898.0 832.0 L900.0 827.3 L902.0 826.4 L904.0 825.8 L906.0 821.6 L908.0 818.5 L910.0 816.5 L912.0 815.3 L914.0 814.5 L916.5 814.1 L918.0 814.4 L920.0 815.3 L922.0 816.4 L924.0 818.5 L926.0 821.5 L928.0 825.3 L930.0 827.7 L932.0 831.2 L934.0 837.7 L936.0 844.3 L938.0 849.7 L940.0 852.6 L942.0 854.7 L944.0 858.3 L946.0 863.1 L948.0 866.6 L950.0 869.9 L952.0 872.8 L954.0 876.2 L956.0 878.3 L958.0 880.6 L960.0 883.7 L962.0 885.1 L964.0 886.0 L966.0 887.7 L968.0 889.0 L970.0 890.2 L972.0 890.7 L974.0 893.0 L976.0 894.9 L978.0 893.9 L980.0 895.1 L982.0 897.1 L984.0 899.0 L986.0 898.7 L988.0 898.0 L990.0 898.7 L992.0 899.2 L994.0 899.9 L996.0 902.0 L998.0 903.8 L1000.0 905.3 L1002.0 906.3 L1004.0 906.3 L1006.0 905.9 L1008.0 906.3 L1010.0 905.8 L1012.0 905.3 L1014.0 906.6 L1016.0 907.5 L1018.0 907.9 L1020.0 907.5 L1022.0 907.2 L1024.0 907.4 L1026.0 909.0 L1028.0 911.0 L1030.0 912.2 L1032.0 910.8 L1034.0 910.3 L1036.0 910.0 L1038.0 909.6 L1040.0 909.4 L1042.0 909.5 L1044.0 910.6 L1046.0 910.3 L1048.0 909.8 L1050.0 910.7 L1052.0 911.0 L1054.0 911.5 L1056.0 913.3 L1058.0 912.2 L1060.0 910.4 L1062.0 910.4 L1064.0 910.4 L1066.0 910.7 L1068.0 912.3 L1070.0 911.7 L1072.0 910.5 L1074.0 910.3 L1076.0 910.9 L1078.0 911.9 L1080.0 913.2 L1082.0 913.3 L1084.0 913.0 L1086.0 913.4 L1088.0 913.7 L1090.0 914.4 L1092.0 916.3 L1094.0 914.7 L1096.0 912.4 L1098.0 912.9 L1100.0 913.4 L1102.0 914.1 L1104.0 914.9 L1106.0 914.7 L1108.0 914.1 L1110.0 913.4 L1112.0 914.4 L1114.0 915.5 L1116.0 914.5 L1118.0 914.7 L1120.0 915.3 L1122.0 915.5 L1124.0 915.4 L1126.0 915.2 L1128.0 914.8 L1130.0 915.8 L1132.0 917.0 L1134.0 916.5 L1136.0 915.6 L1138.0 914.8 L1140.0 915.3 L1142.0 915.9 L1144.0 916.3 L1146.0 915.7 L1148.0 915.3 L1150.0 915.0 L1152.0 914.7 L1154.0 914.9 L1156.0 915.2 L1158.0 914.9 L1160.0 916.2 L1162.0 917.1 L1164.0 914.7 L1166.0 914.3 L1168.0 914.6 L1170.0 914.9 L1172.0 915.4 L1174.0 916.0 L1176.0 916.4 L1178.0 916.6 L1180.0 916.8 L1182.0 917.7 L1184.0 917.8 L1186.0 917.7 L1188.0 918.1 L1190.0 919.5 L1192.0 920.6 L1194.0 919.8 L1196.0 920.1 L1198.0 920.6 L1200.0 920.4 L1202.0 920.6 L1204.0 921.1 L1206.0 922.1 L1208.0 922.5 L1210.0 922.5 L1212.0 921.9 L1214.0 922.3 L1216.0 922.8 L1218.0 922.9 L1220.0 922.8 L1222.0 922.7 L1224.0 922.7 L1226.0 922.8 L1228.0 922.8 L1230.0 922.5 L1232.0 922.8 L1234.0 923.0 L1236.0 922.5 L1238.0 922.6 L1240.0 922.7 L1242.0 922.1 L1244.0 921.9 L1246.0 922.0 L1248.0 922.8 L1250.0 923.3 L1252.0 923.0 L1254.0 920.8 L1256.0 921.6 L1258.0 923.2 L1260.0 923.0 L1262.0 922.0 L1264.0 921.1 L1266.0 921.6 L1268.0 922.4 L1270.0 923.2 L1272.0 923.6 L1274.0 922.6 L1276.0 921.7 L1278.0 922.6 L1280.0 923.9 L1282.0 925.2 L1284.0 926.1 L1286.0 926.1 L1288.0 925.9 L1290.0 926.2 L1292.0 926.3 L1294.0 926.6 L1296.0 928.0 L1298.0 928.2 L1300.0 927.7 L1302.0 926.4 L1304.0 926.2 L1306.0 926.2 L1308.0 926.2 L1310.0 926.9 L1312.0 927.8 L1314.0 927.9 L1316.0 927.6 L1318.0 927.5 L1320.0 928.2 L1322.0 927.0 L1324.0 925.9 L1326.0 927.4 L1328.0 929.2 L1330.0 930.2 L1332.0 928.1 L1334.0 928.6 L1336.0 929.9 L1338.0 930.3 L1340.0 930.7 L1342.0 931.2 L1344.0 931.7 L1346.0 930.7 L1348.0 930.0 L1350.0 932.0 L1352.0 932.8 L1354.0 932.9 L1356.0 932.7 L1358.0 933.2 L1360.0 933.7 L1362.0 933.2 L1364.0 931.9 L1366.0 931.0 L1368.0 932.5 L1370.0 932.2 L1372.0 931.6 L1374.0 932.6 L1376.0 932.5 L1378.0 932.4 L1380.0 933.8 L1382.0 934.4 L1384.0 934.6 L1386.0 934.3 L1388.0 933.9 L1390.0 933.9 L1392.0 935.6 L1394.0 934.9 L1396.0 933.7 L1398.0 933.3 L1400.0 934.6 L1402.0 935.7 L1404.0 934.5 L1406.0 934.1 L1408.0 934.3 L1410.0 934.8 L1412.0 933.9 L1414.0 932.9 L1416.0 933.4 L1418.0 933.5 L1420.0 933.6 L1422.0 934.5 L1424.0 935.0 L1426.0 935.1 L1428.0 933.8 L1430.0 933.7 L1432.0 933.5 L1434.0 932.0 L1436.0 931.4 L1438.0 931.9 L1440.0 934.9 L1442.0 934.5 L1444.0 933.1 L1446.0 932.4 L1448.0 932.6 L1450.0 933.0 L1452.0 932.7 L1454.0 932.2 L1456.0 932.0 L1458.0 932.7 L1460.0 932.7 L1462.0 932.5 L1464.0 932.7 L1466.0 933.1 L1468.0 933.4 L1470.0 933.6 L1472.0 934.0 L1474.0 934.3 L1476.0 933.9 L1478.0 934.1 L1480.0 934.0 L1482.0 931.6 L1484.0 931.3 L1486.0 931.9 L1488.0 932.1 L1490.0 933.1 L1492.0 933.7 L1494.0 932.2 L1496.0 933.3 L1498.0 934.6 L1500.0 933.3 L1502.0 932.2 L1504.0 931.5 L1506.0 931.7 L1508.0 931.1 L1510.0 930.8 L1512.0 932.6 L1514.0 932.4 L1516.0 931.9 L1518.0 933.6 L1520.0 933.7 L1522.0 933.0 L1524.0 931.3 L1526.0 931.6 L1528.0 932.1 L1530.0 930.6 L1532.0 930.0 L1534.0 929.8 L1536.0 930.0 L1538.0 930.7 L1540.0 931.4 L1542.0 931.2 L1544.0 929.8 L1546.0 928.1 L1548.0 927.0 L1550.0 928.1 L1552.0 929.2 L1554.0 927.0 L1556.0 926.5 L1558.0 926.2 L1560.0 924.5 L1562.0 924.0 L1564.0 924.4 L1566.0 926.0 L1568.0 924.2 L1570.0 922.0 L1572.0 923.1 L1574.0 923.1 L1576.0 922.2 L1578.0 920.2 L1580.0 921.7 L1582.0 923.4 L1584.0 921.5 L1586.0 921.5 L1588.0 922.1 L1590.0 922.8 L1592.0 922.1 L1594.0 920.7 L1596.0 918.8 L1598.0 919.5 L1600.0 920.5 L1602.0 920.0 L1604.0 919.2 L1606.0 917.9 L1608.0 915.6 L1610.0 915.0 L1612.0 914.6 L1614.0 912.9 L1616.0 912.9 L1618.0 913.2 L1620.0 912.3 L1622.0 911.5 L1624.0 911.5 L1626.0 913.6 L1628.0 912.9 L1630.0 911.7 L1632.0 912.9 L1634.0 911.4 L1636.0 909.1 L1638.0 907.9 L1640.0 906.8 L1642.0 905.9 L1644.0 905.4 L1646.0 904.4 L1648.0 903.4 L1650.0 902.7 L1652.0 901.3 L1654.0 899.4 L1656.0 897.1 L1658.0 893.4 L1660.0 889.2 L1662.0 885.2 L1664.0 881.8 L1666.0 878.1 L1668.0 872.9 L1670.0 868.0 L1672.0 862.5 L1674.0 854.8 L1676.0 846.9 L1678.0 837.9 L1680.0 826.1 L1682.0 816.3 L1684.0 806.2 L1686.0 792.4 L1688.0 777.4 L1690.0 762.3 L1692.0 745.8 L1694.0 729.2 L1696.0 713.9 L1698.0 701.2 L1700.0 690.2 L1702.0 679.6 L1704.0 670.4 L1706.0 664.6 L1707.1 663.7 L1708.0 664.6 L1710.0 671.7 L1712.0 682.8 L1714.0 693.5 L1716.0 702.4 L1718.0 712.5 L1720.0 726.0 L1722.0 742.2 L1724.0 759.4 L1726.0 775.8 L1728.0 795.7 L1730.0 812.9 L1732.0 829.5 L1734.0 847.2 L1736.0 860.5 L1738.0 868.7 L1740.0 877.2 L1742.0 885.8 L1744.0 893.8 L1746.0 899.3 L1748.0 905.4 L1750.0 911.1 L1752.0 915.5 L1754.0 919.0 L1756.0 921.9 L1758.0 924.2 L1760.0 926.3 L1762.0 928.0 L1764.0 929.3 L1766.0 931.9 L1768.0 933.7 L1770.0 931.1 L1772.0 933.0 L1774.0 935.6 L1776.0 935.0 L1778.0 935.7 L1780.0 937.2 L1782.0 939.7 L1784.0 940.4 L1786.0 940.1 L1788.0 938.8 L1790.0 939.1 L1792.0 939.6 L1794.0 939.1 L1796.0 939.5 L1798.0 940.0 L1800.0 939.7 L1802.0 940.2 L1804.0 940.5 L1806.0 939.8 L1808.0 939.9 L1810.0 940.4 L1812.0 941.2 L1814.0 941.5 L1816.0 941.8 L1818.0 943.0 L1820.0 942.3 L1822.0 941.4 L1824.0 942.6 L1826.0 942.3 L1828.0 941.8 L1830.0 942.6 L1832.0 942.4 L1834.0 942.2 L1836.0 942.7 L1838.0 944.4 L1840.0 945.5 L1842.0 942.6 L1844.0 943.0 L1846.0 944.1 L1848.0 943.1 L1850.0 943.3 L1852.0 943.8 L1854.0 943.1 L1856.0 943.7 L1858.0 944.7 L1860.0 945.4 L1862.0 945.3 L1864.0 944.8 L1866.0 944.4 L1868.0 945.1 L1870.0 945.6 L1872.0 944.1 L1874.0 943.3 L1876.0 943.0 L1878.0 943.7 L1880.0 944.2 L1882.0 944.4 L1884.0 944.5 L1886.0 944.2 L1888.0 944.0 L1890.0 945.1 L1892.0 944.6 L1894.0 944.4 L1896.0 947.0 L1898.0 946.6 L1900.0 945.1 L1902.0 943.5 L1904.0 943.8 L1906.0 944.3 L1908.0 942.6 L1910.0 944.0 L1912.0 945.6 L1914.0 944.1 L1916.0 943.3 L1918.0 943.2 L1920.0 944.4 L1922.0 943.9 L1924.0 943.3 L1926.0 945.0 L1928.0 944.8 L1930.0 944.5 L1932.0 945.8 L1934.0 945.9 L1936.0 945.4 L1938.0 944.2 L1940.0 944.6 L1942.0 945.5 L1944.0 945.7 L1946.0 946.2 L1948.0 946.2 L1950.0 943.8 L1952.0 944.7 L1954.0 946.5 L1956.0 946.3 L1957.5 945.9"/>
<path clip-path="url(#plot)" stroke="#0000ff" d="M188.0 1187.8 L190.0 1188.6 L192.0 1186.7 L194.0 1185.1 L196.0 1184.7 L198.0 1185.6 L200.0 1186.0 L202.0 1185.6 L204.0 1187.5 L206.0 1188.2 L208.0 1186.3 L210.0 1187.1 L212.0 1187.3 L214.0 1185.9 L216.0 1187.0 L218.0 1188.1 L220.0 1188.9 L222.0 1190.5 L224.0 1190.7 L226.0 1188.4 L228.0 1189.4 L230.0 1189.4 L232.0 1186.8 L234.0 1187.6 L236.0 1188.6 L238.0 1189.4 L240.0 1190.0 L242.0 1190.9 L244.0 1192.3 L246.0 1192.9 L248.0 1192.4 L250.0 1190.1 L252.0 1192.3 L254.0 1193.4 L256.0 1191.8 L258.0 1194.9 L260.0 1196.6 L262.0 1195.1 L264.0 1195.1 L266.0 1195.1 L268.0 1195.0 L270.0 1195.4 L272.0 1195.8 L274.0 1196.2 L276.0 1195.8 L278.0 1196.2 L280.0 1198.1 L282.0 1198.2 L284.0 1198.3 L286.0 1199.1 L288.0 1198.7 L290.0 1198.7 L292.0 1199.7 L294.0 1198.6 L296.0 1199.1 L298.0 1202.7 L300.0 1200.3 L302.0 1198.5 L304.0 1198.9 L306.0 1200.4 L308.0 1201.6 L310.0 1202.0 L312.0 1200.1 L314.0 1198.4 L316.0 1197.5 L318.0 1197.7 L320.0 1198.2 L322.0 1198.7 L324.0 1199.0 L326.0 1199.6 L328.0 1200.4 L330.0 1201.8 L332.0 1202.7 L334.0 1202.9 L336.0 1201.4 L338.0 1201.0 L340.0 1202.6 L342.0 1203.4 L344.0 1204.2 L346.0 1205.1 L348.0 1204.0 L350.0 1203.0 L352.0 1202.8 L354.0 1204.5 L356.0 1206.3 L358.0 1207.5 L360.0 1205.9 L362.0 1205.8 L364.0 1208.9 L366.0 1209.2 L368.0 1208.4 L370.0 1206.3 L372.0 1204.8 L374.0 1204.5 L376.0 1205.7 L378.0 1206.2 L380.0 1206.9 L382.0 1208.0 L384.0 1206.0 L386.0 1206.3 L388.0 1210.9 L390.0 1211.5 L392.0 1210.3 L394.0 1206.9 L396.0 1205.4 L398.0 1205.4 L400.0 1207.4 L402.0 1208.2 L404.0 1208.9 L406.0 1209.7 L408.0 1208.9 L410.0 1207.6 L412.0 1206.0 L414.0 1203.6 L416.0 1202.9 L418.0 1205.2 L420.0 1205.4 L422.0 1204.7 L424.0 1203.2 L426.0 1203.5 L428.0 1204.0 L430.0 1204.1 L432.0 1203.9 L434.0 1203.6 L436.0 1203.0 L438.0 1204.9 L440.0 1205.7 L442.0 1204.3 L444.0 1207.4 L446.0 1208.9 L448.0 1206.8 L450.0 1208.3 L452.0 1209.1 L454.0 1207.9 L456.0 1209.1 L458.0 1209.9 L460.0 1209.4 L462.0 1210.3 L464.0 1210.5 L466.0 1209.3 L468.0 1208.5 L470.0 1208.7 L472.0 1210.4 L474.0 1210.7 L476.0 1210.4 L478.0 1209.3 L480.0 1210.1 L482.0 1210.4 L484.0 1209.5 L486.0 1211.3 L488.0 1212.5 L490.0 1212.0 L492.0 1212.5 L494.0 1213.8 L496.0 1216.5 L498.0 1214.7 L500.0 1213.4 L502.0 1213.7 L504.0 1214.0 L506.0 1213.8 L508.0 1212.9 L510.0 1212.4 L512.0 1212.7 L514.0 1214.4 L516.0 1214.7 L518.0 1213.5 L520.0 1209.9 L522.0 1211.4 L524.0 1212.7 L526.0 1212.5 L528.0 1212.3 L530.0 1212.9 L532.0 1214.9 L534.0 1213.4 L536.0 1212.8 L538.0 1214.4 L540.0 1213.1 L542.0 1212.2 L544.0 1212.4 L546.0 1213.5 L548.0 1213.7 L550.0 1212.0 L552.0 1212.4 L554.0 1212.4 L556.0 1211.3 L558.0 1211.5 L560.0 1212.4 L562.0 1214.4 L564.0 1214.7 L566.0 1214.1 L568.0 1212.4 L570.0 1212.4 L572.0 1214.1 L574.0 1218.4 L576.0 1216.2 L578.0 1214.3 L580.0 1214.3 L582.0 1215.9 L584.0 1216.5 L586.0 1215.2 L588.0 1215.5 L590.0 1216.4 L592.0 1217.8 L594.0 1218.0 L596.0 1217.4 L598.0 1215.9 L600.0 1217.2 L602.0 1217.4 L604.0 1215.5 L606.0 1215.0 L608.0 1214.8 L610.0 1214.9 L612.0 1214.4 L614.0 1214.4 L616.0 1215.2 L618.0 1214.9 L620.0 1214.2 L622.0 1212.9 L624.0 1213.7 L626.0 1214.1 L628.0 1213.3 L630.0 1213.3 L632.0 1213.5 L634.0 1214.1 L636.0 1215.5 L638.0 1216.1 L640.0 1215.5 L642.0 1216.5 L644.0 1217.5 L646.0 1218.0 L648.0 1216.5 L650.0 1215.3 L652.0 1214.8 L654.0 1214.6 L656.0 1215.0 L658.0 1216.2 L660.0 1216.9 L662.0 1217.5 L664.0 1218.2 L666.0 1215.2 L668.0 1213.9 L670.0 1216.1 L672.0 1216.2 L674.0 1216.5 L676.0 1217.6 L678.0 1215.3 L680.0 1213.4 L682.0 1212.8 L684.0 1210.9 L686.0 1209.9 L688.0 1210.4 L690.0 1209.9 L692.0 1209.5 L694.0 1209.5 L696.0 1209.4 L698.0 1209.0 L700.0 1208.2 L702.0 1209.3 L704.0 1210.4 L706.0 1210.8 L708.0 1211.1 L710.0 1210.9 L712.0 1209.7 L714.0 1210.6 L716.0 1211.3 L718.0 1211.2 L720.0 1208.5 L722.0 1207.1 L724.0 1208.3 L726.0 1207.4 L728.0 1206.7 L730.0 1206.8 L732.0 1207.9 L734.0 1208.4 L736.0 1208.0 L738.0 1209.4 L740.0 1210.6 L742.0 1211.1 L744.0 1209.4 L746.0 1207.9 L748.0 1207.0 L750.0 1206.9 L752.0 1206.8 L754.0 1206.8 L756.0 1207.3 L758.0 1207.0 L760.0 1205.4 L762.0 1206.4 L764.0 1206.9 L766.0 1205.8 L768.0 1206.9 L770.0 1207.9 L772.0 1208.1 L774.0 1208.4 L776.0 1207.7 L778.0 1205.4 L780.0 1203.8 L782.0 1202.4 L784.0 1201.4 L786.0 1202.1 L788.0 1202.0 L790.0 1200.4 L792.0 1200.0 L794.0 1200.4 L796.0 1201.9 L798.0 1201.4 L800.0 1201.6 L802.0 1202.8 L804.0 1202.8 L806.0 1202.2 L808.0 1199.5 L810.0 1199.5 L812.0 1199.0 L814.0 1196.9 L816.0 1198.4 L818.0 1199.2 L820.0 1198.2 L822.0 1197.7 L824.0 1197.1 L826.0 1196.2 L828.0 1199.5 L830.0 1200.5 L832.0 1196.7 L834.0 1196.6 L836.0 1196.4 L838.0 1196.1 L840.0 1196.2 L842.0 1196.4 L844.0 1196.4 L846.0 1196.2 L848.0 1195.3 L850.0 1193.0 L852.0 1193.3 L854.0 1193.4 L856.0 1192.2 L858.0 1189.9 L860.0 1189.5 L862.0 1192.5 L864.0 1190.4 L866.0 1189.1 L868.0 1190.2 L870.0 1187.6 L872.0 1185.6 L874.0 1185.2 L876.0 1184.5 L878.0 1181.2 L880.0 1177.3 L882.0 1176.2 L884.0 1174.6 L886.0 1170.6 L888.0 1171.2 L890.0 1170.6 L892.0 1166.8 L894.0 1165.1 L896.0 1163.2 L898.0 1160.9 L900.0 1158.2 L902.0 1156.1 L904.0 1155.5 L906.0 1147.0 L908.0 1138.3 L910.0 1137.9 L912.0 1134.1 L914.0 1130.8 L916.0 1129.8 L918.0 1127.2 L920.0 1123.7 L922.0 1121.2 L924.0 1119.3 L926.0 1118.1 L928.0 1117.2 L930.0 1116.5 L931.6 1116.2 L934.0 1119.3 L936.0 1122.4 L938.0 1125.1 L940.0 1129.9 L942.0 1135.1 L944.0 1140.4 L946.0 1146.0 L948.0 1147.6 L950.0 1149.6 L952.0 1160.4 L954.0 1168.2 L956.0 1171.3 L958.0 1172.4 L960.0 1172.8 L962.0 1173.4 L964.0 1177.2 L966.0 1182.0 L968.0 1186.5 L970.0 1189.2 L972.0 1191.1 L974.0 1191.8 L976.0 1190.8 L978.0 1191.8 L980.0 1192.8 L982.0 1192.0 L984.0 1195.5 L986.0 1198.8 L988.0 1201.2 L990.0 1203.0 L992.0 1203.1 L994.0 1201.5 L996.0 1201.3 L998.0 1201.4 L1000.0 1202.2 L1002.0 1205.0 L1004.0 1207.5 L1006.0 1210.2 L1008.0 1208.4 L1010.0 1208.1 L1012.0 1208.9 L1014.0 1211.4 L1016.0 1213.0 L1018.0 1212.8 L1020.0 1213.6 L1022.0 1213.9 L1024.0 1212.6 L1026.0 1210.5 L1028.0 1210.6 L1030.0 1212.4 L1032.0 1214.6 L1034.0 1215.7 L1036.0 1215.5 L1038.0 1216.5 L1040.0 1216.4 L1042.0 1213.9 L1044.0 1215.9 L1046.0 1217.1 L1048.0 1216.2 L1050.0 1216.5 L1052.0 1217.7 L1054.0 1219.3 L1056.0 1218.4 L1058.0 1217.9 L1060.0 1218.6 L1062.0 1219.3 L1064.0 1219.8 L1066.0 1220.0 L1068.0 1220.4 L1070.0 1220.9 L1072.0 1221.6 L1074.0 1221.1 L1076.0 1220.3 L1078.0 1219.3 L1080.0 1222.0 L1082.0 1223.0 L1084.0 1220.7 L1086.0 1221.0 L1088.0 1220.9 L1090.0 1219.8 L1092.0 1218.4 L1094.0 1218.2 L1096.0 1219.9 L1098.0 1221.1 L1100.0 1222.1 L1102.0 1222.8 L1104.0 1222.5 L1106.0 1222.6 L1108.0 1223.7 L1110.0 1224.1 L1112.0 1224.4 L1114.0 1224.5 L1116.0 1223.7 L1118.0 1223.2 L1120.0 1223.5 L1122.0 1223.3 L1124.0 1223.0 L1126.0 1222.5 L1128.0 1224.8 L1130.0 1225.5 L1132.0 1222.7 L1134.0 1223.7 L1136.0 1224.8 L1138.0 1225.3 L1140.0 1223.2 L1142.0 1223.0 L1144.0 1226.4 L1146.0 1225.9 L1148.0 1225.5 L1150.0 1226.3 L1152.0 1225.9 L1154.0 1225.1 L1156.0 1223.8 L1158.0 1225.5 L1160.0 1226.7 L1162.0 1226.7 L1164.0 1227.6 L1166.0 1228.1 L1168.0 1227.5 L1170.0 1225.3 L1172.0 1225.1 L1174.0 1228.3 L1176.0 1228.4 L1178.0 1228.2 L1180.0 1228.2 L1182.0 1227.9 L1184.0 1227.2 L1186.0 1225.9 L1188.0 1227.0 L1190.0 1227.6 L1192.0 1226.6 L1194.0 1229.0 L1196.0 1229.8 L1198.0 1227.2 L1200.0 1226.0 L1202.0 1225.8 L1204.0 1226.8 L1206.0 1228.7 L1208.0 1229.2 L1210.0 1227.1 L1212.0 1225.5 L1214.0 1226.3 L1216.0 1230.9 L1218.0 1230.7 L1220.0 1230.0 L1222.0 1229.6 L1224.0 1231.2 L1226.0 1231.9 L1228.0 1230.5 L1230.0 1230.5 L1232.0 1231.7 L1234.0 1234.5 L1236.0 1233.6 L1238.0 1233.2 L1240.0 1234.5 L1242.0 1234.2 L1244.0 1234.1 L1246.0 1235.0 L1248.0 1234.3 L1250.0 1232.7 L1252.0 1230.2 L1254.0 1232.5 L1256.0 1233.7 L1258.0 1232.3 L1260.0 1233.3 L1262.0 1233.8 L1264.0 1232.8 L1266.0 1233.9 L1268.0 1233.9 L1270.0 1231.9 L1272.0 1229.8 L1274.0 1229.3 L1276.0 1231.3 L1278.0 1232.4 L1280.0 1232.7 L1282.0 1231.8 L1284.0 1231.8 L1286.0 1232.7 L1288.0 1235.1 L1290.0 1233.9 L1292.0 1233.6 L1294.0 1235.2 L1296.0 1234.7 L1298.0 1233.6 L1300.0 1232.1 L1302.0 1232.7 L1304.0 1233.5 L1306.0 1234.5 L1308.0 1235.4 L1310.0 1235.6 L1312.0 1234.5 L1314.0 1233.9 L1316.0 1233.9 L1318.0 1234.5 L1320.0 1235.2 L1322.0 1235.6 L1324.0 1235.4 L1326.0 1235.8 L1328.0 1237.3 L1330.0 1240.3 L1332.0 1239.2 L1334.0 1237.8 L1336.0 1236.8 L1338.0 1237.7 L1340.0 1239.1 L1342.0 1241.2 L1344.0 1240.7 L1346.0 1240.0 L1348.0 1239.4 L1350.0 1238.4 L1352.0 1237.8 L1354.0 1237.8 L1356.0 1239.5 L1358.0 1240.9 L1360.0 1241.6 L1362.0 1240.5 L1364.0 1240.0 L1366.0 1240.6 L1368.0 1242.3 L1370.0 1242.6 L1372.0 1240.4 L1374.0 1240.8 L1376.0 1242.0 L1378.0 1244.0 L1380.0 1244.9 L1382.0 1245.2 L1384.0 1244.9 L1386.0 1245.5 L1388.0 1246.2 L1390.0 1246.8 L1392.0 1246.1 L1394.0 1245.0 L1396.0 1243.6 L1398.0 1245.8 L1400.0 1247.2 L1402.0 1246.5 L1404.0 1245.6 L1406.0 1244.2 L1408.0 1242.1 L1410.0 1243.0 L1412.0 1242.7 L1414.0 1239.7 L1416.0 1241.1 L1418.0 1241.4 L1420.0 1239.1 L1422.0 1240.6 L1424.0 1242.4 L1426.0 1244.0 L1428.0 1243.2 L1430.0 1243.1 L1432.0 1244.9 L1434.0 1243.5 L1436.0 1242.4 L1438.0 1242.6 L1440.0 1242.2 L1442.0 1242.4 L1444.0 1243.4 L1446.0 1243.0 L1448.0 1243.2 L1450.0 1244.7 L1452.0 1245.3 L1454.0 1245.2 L1456.0 1243.9 L1458.0 1242.3 L1460.0 1242.1 L1462.0 1244.1 L1464.0 1245.2 L1466.0 1245.6 L1468.0 1244.8 L1470.0 1244.5 L1472.0 1244.6 L1474.0 1245.4 L1476.0 1245.9 L1478.0 1244.7 L1480.0 1240.7 L1482.0 1244.0 L1484.0 1246.4 L1486.0 1245.5 L1488.0 1245.1 L1490.0 1244.4 L1492.0 1243.2 L1494.0 1243.8 L1496.0 1244.4 L1498.0 1244.7 L1500.0 1242.5 L1502.0 1241.9 L1504.0 1244.2 L1506.0 1243.7 L1508.0 1243.6 L1510.0 1245.0 L1512.0 1244.2 L1514.0 1243.1 L1516.0 1241.9 L1518.0 1241.8 L1520.0 1242.0 L1522.0 1242.4 L1524.0 1241.8 L1526.0 1241.3 L1528.0 1241.6 L1530.0 1240.1 L1532.0 1238.8 L1534.0 1237.9 L1536.0 1238.3 L1538.0 1238.2 L1540.0 1237.0 L1542.0 1237.3 L1544.0 1238.1 L1546.0 1239.2 L1548.0 1237.2 L1550.0 1235.8 L1552.0 1236.1 L1554.0 1237.9 L1556.0 1238.6 L1558.0 1237.0 L1560.0 1237.1 L1562.0 1236.8 L1564.0 1235.1 L1566.0 1234.9 L1568.0 1235.1 L1570.0 1235.7 L1572.0 1237.4 L1574.0 1237.9 L1576.0 1236.2 L1578.0 1233.5 L1580.0 1232.5 L1582.0 1234.4 L1584.0 1234.6 L1586.0 1233.2 L1588.0 1231.1 L1590.0 1228.9 L1592.0 1228.7 L1594.0 1231.0 L1596.0 1234.0 L1598.0 1234.2 L1600.0 1230.4 L1602.0 1230.6 L1604.0 1230.2 L1606.0 1228.0 L1608.0 1226.5 L1610.0 1225.9 L1612.0 1226.4 L1614.0 1227.9 L1616.0 1229.3 L1618.0 1230.0 L1620.0 1228.5 L1622.0 1227.4 L1624.0 1227.0 L1626.0 1225.2 L1628.0 1222.9 L1630.0 1220.7 L1632.0 1223.3 L1634.0 1225.7 L1636.0 1227.0 L1638.0 1227.1 L1640.0 1225.9 L1642.0 1222.4 L1644.0 1222.4 L1646.0 1222.1 L1648.0 1221.2 L1650.0 1219.4 L1652.0 1218.3 L1654.0 1218.3 L1656.0 1217.2 L1658.0 1215.5 L1660.0 1213.9 L1662.0 1213.2 L1664.0 1211.2 L1666.0 1206.2 L1668.0 1203.5 L1670.0 1202.0 L1672.0 1202.0 L1674.0 1198.7 L1676.0 1193.8 L1678.0 1187.1 L1680.0 1182.0 L1682.0 1174.7 L1684.0 1165.7 L1686.0 1156.6 L1688.0 1147.9 L1690.0 1139.2 L1692.0 1127.6 L1694.0 1115.8 L1696.0 1101.0 L1698.0 1086.8 L1700.0 1072.8 L1702.0 1055.6 L1704.0 1041.3 L1706.0 1026.6 L1708.0 1011.4 L1710.0 997.1 L1712.0 986.0 L1714.0 978.0 L1716.0 971.4 L1718.0 965.7 L1720.5 962.9 L1722.0 964.2 L1724.0 969.8 L1726.0 977.7 L1728.0 987.8 L1730.0 1004.4 L1732.0 1022.6 L1734.0 1040.2 L1736.0 1059.1 L1738.0 1078.3 L1740.0 1097.6 L1742.0 1116.9 L1744.0 1137.4 L1746.0 1154.3 L1748.0 1168.3 L1750.0 1177.2 L1752.0 1188.7 L1754.0 1198.4 L1756.0 1206.5 L1758.0 1211.7 L1760.0 1215.8 L1762.0 1219.3 L1764.0 1225.0 L1766.0 1229.7 L1768.0 1232.3 L1770.0 1234.7 L1772.0 1236.1 L1774.0 1237.3 L1776.0 1236.1 L1778.0 1236.9 L1780.0 1241.4 L1782.0 1242.6 L1784.0 1243.7 L1786.0 1245.3 L1788.0 1246.5 L1790.0 1246.9 L1792.0 1246.5 L1794.0 1245.3 L1796.0 1246.4 L1798.0 1251.2 L1800.0 1251.7 L1802.0 1251.1 L1804.0 1249.6 L1806.0 1247.9 L1808.0 1247.4 L1810.0 1249.2 L1812.0 1249.8 L1814.0 1250.8 L1816.0 1252.7 L1818.0 1254.0 L1820.0 1253.9 L1822.0 1252.5 L1824.0 1253.7 L1826.0 1253.7 L1828.0 1251.5 L1830.0 1253.3 L1832.0 1255.2 L1834.0 1256.4 L1836.0 1255.3 L1838.0 1254.6 L1840.0 1255.2 L1842.0 1255.6 L1844.0 1255.8 L1846.0 1255.9 L1848.0 1257.3 L1850.0 1257.2 L1852.0 1254.3 L1854.0 1256.4 L1856.0 1257.0 L1858.0 1254.1 L1860.0 1254.3 L1862.0 1254.7 L1864.0 1254.6 L1866.0 1255.3 L1868.0 1255.6 L1870.0 1255.1 L1872.0 1256.1 L1874.0 1256.6 L1876.0 1256.0 L1878.0 1258.0 L1880.0 1258.8 L1882.0 1256.8 L1884.0 1255.9 L1886.0 1255.7 L1888.0 1256.4 L1890.0 1256.7 L1892.0 1256.5 L1894.0 1255.6 L1896.0 1254.5 L1898.0 1254.0 L1900.0 1254.3 L1902.0 1255.3 L1904.0 1256.2 L1906.0 1257.0 L1908.0 1256.7 L1910.0 1256.1 L1912.0 1255.5 L1914.0 1256.0 L1916.0 1256.0 L1918.0 1254.8 L1920.0 1255.4 L1922.0 1256.4 L1924.0 1257.7 L1926.0 1257.6 L1928.0 1257.5 L1930.0 1257.7 L1932.0 1256.1 L1934.0 1255.1 L1936.0 1255.8 L1938.0 1254.7 L1940.0 1254.7 L1942.0 1257.0 L1944.0 1255.9 L1946.0 1254.7 L1948.0 1253.7 L1950.0 1254.5 L1952.0 1255.5 L1954.0 1256.4 L1956.0 1254.1 L1958.0 1252.8 L1960.0 1253.8 L1962.0 1256.4 L1964.0 1257.8 L1965.5 1257.1"/>
<path clip-path="url(#plot)" stroke="#00ffff" d="M188.0 1487.2 L190.0 1485.8 L192.0 1486.0 L194.0 1487.8 L196.0 1488.1 L198.0 1488.5 L200.0 1489.0 L202.0 1489.6 L204.0 1487.2 L206.0 1482.2 L208.0 1487.2 L210.0 1489.4 L212.0 1490.1 L214.0 1491.5 L216.0 1495.1 L218.0 1500.0 L220.0 1503.2 L222.0 1502.6 L224.0 1499.6 L226.0 1494.7 L228.0 1494.5 L230.0 1498.3 L232.0 1496.5 L234.0 1495.4 L236.0 1495.1 L238.0 1501.5 L240.0 1503.4 L242.0 1501.3 L244.0 1501.7 L246.0 1501.7 L248.0 1501.3 L250.0 1500.8 L252.0 1502.8 L254.0 1506.9 L256.0 1506.6 L258.0 1506.4 L260.0 1506.2 L262.0 1504.9 L264.0 1506.1 L266.0 1509.5 L268.0 1508.7 L270.0 1509.5 L272.0 1511.6 L274.0 1512.5 L276.0 1511.6 L278.0 1509.4 L280.0 1507.4 L282.0 1506.2 L284.0 1506.0 L286.0 1508.9 L288.0 1510.3 L290.0 1510.3 L292.0 1510.4 L294.0 1508.7 L296.0 1505.7 L298.0 1509.6 L300.0 1511.1 L302.0 1510.4 L304.0 1509.0 L306.0 1510.8 L308.0 1515.3 L310.0 1514.7 L312.0 1515.2 L314.0 1516.7 L316.0 1514.9 L318.0 1513.1 L320.0 1511.5 L322.0 1516.4 L324.0 1517.3 L326.0 1514.7 L328.0 1515.5 L330.0 1517.7 L332.0 1520.8 L334.0 1517.6 L336.0 1517.2 L338.0 1519.4 L340.0 1520.6 L342.0 1521.1 L344.0 1521.2 L346.0 1524.1 L348.0 1525.0 L350.0 1523.8 L352.0 1517.7 L354.0 1517.9 L356.0 1523.5 L358.0 1521.9 L360.0 1520.3 L362.0 1518.8 L364.0 1521.2 L366.0 1520.7 L368.0 1517.8 L370.0 1521.6 L372.0 1524.1 L374.0 1525.2 L376.0 1526.3 L378.0 1526.6 L380.0 1525.9 L382.0 1521.5 L384.0 1519.3 L386.0 1519.1 L388.0 1515.9 L390.0 1517.1 L392.0 1522.3 L394.0 1519.3 L396.0 1517.2 L398.0 1516.1 L400.0 1519.9 L402.0 1521.0 L404.0 1519.6 L406.0 1520.7 L408.0 1521.5 L410.0 1522.1 L412.0 1524.0 L414.0 1524.3 L416.0 1523.3 L418.0 1525.5 L420.0 1525.7 L422.0 1524.3 L424.0 1525.2 L426.0 1525.0 L428.0 1523.9 L430.0 1521.8 L432.0 1525.1 L434.0 1533.0 L436.0 1532.7 L438.0 1530.7 L440.0 1527.2 L442.0 1526.8 L444.0 1527.4 L446.0 1528.8 L448.0 1525.9 L450.0 1524.5 L452.0 1524.5 L454.0 1526.4 L456.0 1527.0 L458.0 1526.4 L460.0 1527.7 L462.0 1526.7 L464.0 1523.8 L466.0 1526.8 L468.0 1528.3 L470.0 1528.3 L472.0 1526.7 L474.0 1527.9 L476.0 1531.5 L478.0 1531.1 L480.0 1532.0 L482.0 1534.0 L484.0 1534.5 L486.0 1534.9 L488.0 1535.2 L490.0 1531.1 L492.0 1530.9 L494.0 1534.1 L496.0 1533.7 L498.0 1533.8 L500.0 1534.5 L502.0 1530.9 L504.0 1526.9 L506.0 1522.9 L508.0 1524.1 L510.0 1526.7 L512.0 1530.2 L514.0 1528.5 L516.0 1527.7 L518.0 1527.6 L520.0 1526.3 L522.0 1526.0 L524.0 1526.7 L526.0 1526.3 L528.0 1529.9 L530.0 1536.8 L532.0 1537.2 L534.0 1535.5 L536.0 1532.1 L538.0 1534.6 L540.0 1536.0 L542.0 1536.5 L544.0 1537.7 L546.0 1536.7 L548.0 1533.6 L550.0 1531.9 L552.0 1534.1 L554.0 1539.7 L556.0 1537.5 L558.0 1538.0 L560.0 1540.6 L562.0 1539.2 L564.0 1537.1 L566.0 1534.6 L568.0 1533.7 L570.0 1535.0 L572.0 1538.1 L574.0 1535.8 L576.0 1535.2 L578.0 1535.8 L580.0 1529.9 L582.0 1528.4 L584.0 1530.8 L586.0 1533.7 L588.0 1534.2 L590.0 1532.8 L592.0 1533.5 L594.0 1534.4 L596.0 1535.2 L598.0 1530.5 L600.0 1529.3 L602.0 1531.1 L604.0 1532.4 L606.0 1532.7 L608.0 1532.1 L610.0 1533.6 L612.0 1533.9 L614.0 1533.3 L616.0 1537.1 L618.0 1538.6 L620.0 1538.0 L622.0 1534.1 L624.0 1532.5 L626.0 1533.2 L628.0 1535.1 L630.0 1533.7 L632.0 1529.4 L634.0 1532.3 L636.0 1533.6 L638.0 1533.5 L640.0 1537.3 L642.0 1536.8 L644.0 1532.6 L646.0 1534.2 L648.0 1534.9 L650.0 1535.0 L652.0 1534.8 L654.0 1535.1 L656.0 1535.4 L658.0 1530.8 L660.0 1530.2 L662.0 1532.9 L664.0 1529.3 L666.0 1528.9 L668.0 1531.3 L670.0 1530.7 L672.0 1530.0 L674.0 1529.3 L676.0 1529.8 L678.0 1531.7 L680.0 1534.5 L682.0 1530.1 L684.0 1527.5 L686.0 1526.6 L688.0 1527.8 L690.0 1528.2 L692.0 1528.0 L694.0 1528.9 L696.0 1528.6 L698.0 1527.1 L700.0 1528.3 L702.0 1530.2 L704.0 1532.8 L706.0 1527.7 L708.0 1526.7 L710.0 1529.2 L712.0 1528.6 L714.0 1528.9 L716.0 1529.8 L718.0 1528.2 L720.0 1526.1 L722.0 1523.7 L724.0 1527.8 L726.0 1528.3 L728.0 1525.7 L730.0 1524.9 L732.0 1525.1 L734.0 1526.1 L736.0 1524.5 L738.0 1524.3 L740.0 1525.4 L742.0 1527.5 L744.0 1527.1 L746.0 1524.6 L748.0 1525.6 L750.0 1524.3 L752.0 1521.1 L754.0 1521.4 L756.0 1522.2 L758.0 1523.6 L760.0 1524.7 L762.0 1525.5 L764.0 1525.9 L766.0 1523.0 L768.0 1521.8 L770.0 1522.2 L772.0 1526.1 L774.0 1525.5 L776.0 1521.1 L778.0 1522.9 L780.0 1524.5 L782.0 1525.8 L784.0 1525.0 L786.0 1522.6 L788.0 1519.1 L790.0 1520.5 L792.0 1519.6 L794.0 1516.8 L796.0 1521.9 L798.0 1525.0 L800.0 1525.4 L802.0 1522.0 L804.0 1520.5 L806.0 1520.7 L808.0 1525.0 L810.0 1525.0 L812.0 1520.4 L814.0 1519.3 L816.0 1518.2 L818.0 1517.6 L820.0 1521.1 L822.0 1520.8 L824.0 1516.6 L826.0 1514.6 L828.0 1514.3 L830.0 1515.7 L832.0 1519.4 L834.0 1519.5 L836.0 1516.1 L838.0 1516.6 L840.0 1514.9 L842.0 1511.8 L844.0 1512.5 L846.0 1511.7 L848.0 1509.7 L850.0 1514.1 L852.0 1514.0 L854.0 1508.0 L856.0 1508.5 L858.0 1508.5 L860.0 1505.8 L862.0 1507.2 L864.0 1504.4 L866.0 1500.6 L868.0 1499.9 L870.0 1499.8 L872.0 1500.3 L874.0 1503.2 L876.0 1500.3 L878.0 1492.7 L880.0 1492.2 L882.0 1491.2 L884.0 1490.5 L886.0 1488.7 L888.0 1486.6 L890.0 1483.3 L892.0 1478.9 L894.0 1476.3 L896.0 1476.0 L898.0 1466.8 L900.0 1463.9 L902.0 1465.6 L904.0 1456.5 L906.0 1450.6 L908.0 1451.2 L910.0 1448.6 L912.0 1447.1 L914.0 1446.3 L916.0 1445.2 L918.0 1442.5 L920.0 1441.4 L922.4 1441.0 L924.0 1441.0 L926.0 1441.1 L928.0 1444.2 L930.0 1448.8 L932.0 1453.1 L934.0 1454.0 L936.0 1457.1 L938.0 1465.1 L940.0 1471.6 L942.0 1474.9 L944.0 1476.7 L946.0 1479.5 L948.0 1481.7 L950.0 1485.6 L952.0 1491.5 L954.0 1495.8 L956.0 1497.5 L958.0 1497.8 L960.0 1500.4 L962.0 1505.9 L964.0 1508.2 L966.0 1512.1 L968.0 1515.7 L970.0 1515.8 L972.0 1514.5 L974.0 1512.2 L976.0 1516.4 L978.0 1517.1 L980.0 1514.8 L982.0 1515.7 L984.0 1518.2 L986.0 1522.0 L988.0 1523.5 L990.0 1522.1 L992.0 1518.0 L994.0 1522.6 L996.0 1523.6 L998.0 1523.8 L1000.0 1526.9 L1002.0 1528.7 L1004.0 1531.5 L1006.0 1533.5 L1008.0 1534.9 L1010.0 1535.7 L1012.0 1535.1 L1014.0 1532.3 L1016.0 1527.5 L1018.0 1527.1 L1020.0 1526.5 L1022.0 1526.1 L1024.0 1533.1 L1026.0 1533.0 L1028.0 1526.7 L1030.0 1529.4 L1032.0 1530.3 L1034.0 1530.1 L1036.0 1530.2 L1038.0 1531.7 L1040.0 1534.1 L1042.0 1530.1 L1044.0 1530.4 L1046.0 1534.4 L1048.0 1534.2 L1050.0 1533.1 L1052.0 1531.4 L1054.0 1530.1 L1056.0 1530.7 L1058.0 1533.0 L1060.0 1535.3 L1062.0 1535.1 L1064.0 1532.8 L1066.0 1532.3 L1068.0 1534.7 L1070.0 1539.5 L1072.0 1539.5 L1074.0 1537.8 L1076.0 1534.8 L1078.0 1537.2 L1080.0 1538.9 L1082.0 1539.9 L1084.0 1536.6 L1086.0 1536.9 L1088.0 1540.2 L1090.0 1539.6 L1092.0 1540.4 L1094.0 1542.3 L1096.0 1537.6 L1098.0 1538.9 L1100.0 1545.0 L1102.0 1539.6 L1104.0 1538.0 L1106.0 1539.9 L1108.0 1542.6 L1110.0 1544.7 L1112.0 1546.0 L1114.0 1544.5 L1116.0 1543.8 L1118.0 1543.8 L1120.0 1543.4 L1122.0 1544.7 L1124.0 1547.3 L1126.0 1540.9 L1128.0 1536.6 L1130.0 1534.3 L1132.0 1538.4 L1134.0 1542.5 L1136.0 1546.3 L1138.0 1541.4 L1140.0 1540.1 L1142.0 1542.0 L1144.0 1539.8 L1146.0 1540.0 L1148.0 1542.3 L1150.0 1541.5 L1152.0 1540.5 L1154.0 1539.4 L1156.0 1541.1 L1158.0 1542.2 L1160.0 1542.8 L1162.0 1539.6 L1164.0 1538.8 L1166.0 1540.3 L1168.0 1545.2 L1170.0 1545.2 L1172.0 1541.0 L1174.0 1544.3 L1176.0 1544.7 L1178.0 1542.7 L1180.0 1548.2 L1182.0 1548.7 L1184.0 1544.9 L1186.0 1544.0 L1188.0 1544.7 L1190.0 1546.8 L1192.0 1547.4 L1194.0 1545.6 L1196.0 1542.1 L1198.0 1543.0 L1200.0 1544.5 L1202.0 1546.8 L1204.0 1545.1 L1206.0 1546.5 L1208.0 1550.5 L1210.0 1554.5 L1212.0 1553.8 L1214.0 1548.7 L1216.0 1550.5 L1218.0 1549.9 L1220.0 1547.5 L1222.0 1546.2 L1224.0 1545.8 L1226.0 1546.5 L1228.0 1543.0 L1230.0 1543.6 L1232.0 1547.5 L1234.0 1543.9 L1236.0 1542.4 L1238.0 1542.7 L1240.0 1546.1 L1242.0 1547.5 L1244.0 1547.1 L1246.0 1549.6 L1248.0 1549.5 L1250.0 1547.3 L1252.0 1547.5 L1254.0 1548.9 L1256.0 1551.0 L1258.0 1549.3 L1260.0 1549.6 L1262.0 1551.5 L1264.0 1549.5 L1266.0 1549.4 L1268.0 1550.9 L1270.0 1547.5 L1272.0 1549.7 L1274.0 1556.6 L1276.0 1555.7 L1278.0 1553.7 L1280.0 1550.9 L1282.0 1553.1 L1284.0 1552.5 L1286.0 1549.7 L1288.0 1553.2 L1290.0 1553.5 L1292.0 1551.1 L1294.0 1550.6 L1296.0 1549.6 L1298.0 1548.2 L1300.0 1548.9 L1302.0 1551.6 L1304.0 1555.7 L1306.0 1554.6 L1308.0 1554.0 L1310.0 1553.7 L1312.0 1552.0 L1314.0 1552.5 L1316.0 1555.0 L1318.0 1554.6 L1320.0 1555.4 L1322.0 1557.1 L1324.0 1556.8 L1326.0 1555.7 L1328.0 1554.0 L1330.0 1554.0 L1332.0 1553.8 L1334.0 1553.7 L1336.0 1557.1 L1338.0 1556.4 L1340.0 1552.6 L1342.0 1558.2 L1344.0 1560.6 L1346.0 1560.0 L1348.0 1560.0 L1350.0 1561.8 L1352.0 1565.1 L1354.0 1564.2 L1356.0 1563.1 L1358.0 1561.8 L1360.0 1561.3 L1362.0 1561.1 L1364.0 1561.0 L1366.0 1562.3 L1368.0 1561.6 L1370.0 1559.3 L1372.0 1559.8 L1374.0 1559.7 L1376.0 1558.9 L1378.0 1559.1 L1380.0 1560.2 L1382.0 1561.6 L1384.0 1558.2 L1386.0 1557.1 L1388.0 1557.7 L1390.0 1554.0 L1392.0 1554.5 L1394.0 1558.8 L1396.0 1559.8 L1398.0 1561.2 L1400.0 1563.0 L1402.0 1559.8 L1404.0 1560.3 L1406.0 1564.0 L1408.0 1562.2 L1410.0 1560.5 L1412.0 1559.1 L1414.0 1560.7 L1416.0 1561.4 L1418.0 1561.3 L1420.0 1559.3 L1422.0 1559.1 L1424.0 1560.5 L1426.0 1560.4 L1428.0 1560.5 L1430.0 1560.9 L1432.0 1562.3 L1434.0 1560.8 L1436.0 1556.8 L1438.0 1554.1 L1440.0 1553.7 L1442.0 1555.3 L1444.0 1559.3 L1446.0 1559.0 L1448.0 1555.0 L1450.0 1557.2 L1452.0 1559.8 L1454.0 1562.7 L1456.0 1559.8 L1458.0 1559.0 L1460.0 1560.0 L1462.0 1557.8 L1464.0 1558.2 L1466.0 1560.9 L1468.0 1563.4 L1470.0 1562.4 L1472.0 1558.4 L1474.0 1560.2 L1476.0 1559.8 L1478.0 1557.5 L1480.0 1558.3 L1482.0 1559.1 L1484.0 1559.9 L1486.0 1558.6 L1488.0 1558.4 L1490.0 1559.2 L1492.0 1562.5 L1494.0 1560.7 L1496.0 1554.5 L1498.0 1557.8 L1500.0 1557.9 L1502.0 1555.4 L1504.0 1557.3 L1506.0 1559.9 L1508.0 1563.1 L1510.0 1561.1 L1512.0 1560.2 L1514.0 1560.2 L1516.0 1557.2 L1518.0 1556.9 L1520.0 1558.7 L1522.0 1558.8 L1524.0 1558.6 L1526.0 1558.1 L1528.0 1558.2 L1530.0 1558.3 L1532.0 1558.5 L1534.0 1553.7 L1536.0 1551.0 L1538.0 1550.2 L1540.0 1551.8 L1542.0 1551.3 L1544.0 1549.1 L1546.0 1549.8 L1548.0 1548.6 L1550.0 1545.8 L1552.0 1548.2 L1554.0 1547.0 L1556.0 1543.0 L1558.0 1549.9 L1560.0 1549.0 L1562.0 1541.7 L1564.0 1544.9 L1566.0 1546.7 L1568.0 1547.3 L1570.0 1549.1 L1572.0 1548.0 L1574.0 1544.5 L1576.0 1546.1 L1578.0 1548.3 L1580.0 1550.8 L1582.0 1546.7 L1584.0 1545.1 L1586.0 1545.8 L1588.0 1546.4 L1590.0 1547.4 L1592.0 1549.1 L1594.0 1549.0 L1596.0 1547.8 L1598.0 1545.6 L1600.0 1546.7 L1602.0 1548.0 L1604.0 1549.4 L1606.0 1541.7 L1608.0 1537.3 L1610.0 1538.1 L1612.0 1538.8 L1614.0 1540.0 L1616.0 1541.9 L1618.0 1545.6 L1620.0 1546.8 L1622.0 1546.5 L1624.0 1548.3 L1626.0 1546.2 L1628.0 1540.8 L1630.0 1542.0 L1632.0 1543.7 L1634.0 1545.7 L1636.0 1539.9 L1638.0 1537.1 L1640.0 1536.6 L1642.0 1532.3 L1644.0 1531.5 L1646.0 1536.4 L1648.0 1531.3 L1650.0 1529.1 L1652.0 1528.8 L1654.0 1531.3 L1656.0 1531.2 L1658.0 1528.9 L1660.0 1527.8 L1662.0 1526.8 L1664.0 1524.1 L1666.0 1518.2 L1668.0 1516.0 L1670.0 1516.6 L1672.0 1510.6 L1674.0 1503.3 L1676.0 1495.3 L1678.0 1494.7 L1680.0 1484.9 L1682.0 1471.8 L1684.0 1463.9 L1686.0 1456.4 L1688.0 1451.0 L1690.0 1442.6 L1692.0 1423.5 L1694.0 1399.0 L1696.0 1387.2 L1698.0 1373.8 L1700.0 1357.8 L1702.0 1345.2 L1704.0 1331.7 L1706.0 1319.7 L1708.0 1310.4 L1710.0 1300.1 L1712.0 1292.8 L1714.1 1289.8 L1716.0 1292.3 L1718.0 1298.9 L1720.0 1308.1 L1722.0 1318.0 L1724.0 1331.0 L1726.0 1346.2 L1728.0 1368.7 L1730.0 1394.2 L1732.0 1407.9 L1734.0 1423.9 L1736.0 1443.3 L1738.0 1457.3 L1740.0 1472.5 L1742.0 1487.7 L1744.0 1496.8 L1746.0 1505.8 L1748.0 1514.5 L1750.0 1522.8 L1752.0 1529.4 L1754.0 1534.3 L1756.0 1535.9 L1758.0 1537.0 L1760.0 1538.6 L1762.0 1541.6 L1764.0 1547.5 L1766.0 1555.3 L1768.0 1558.8 L1770.0 1560.0 L1772.0 1560.2 L1774.0 1560.3 L1776.0 1559.9 L1778.0 1559.2 L1780.0 1558.1 L1782.0 1559.7 L1784.0 1562.4 L1786.0 1560.3 L1788.0 1557.2 L1790.0 1555.6 L1792.0 1560.2 L1794.0 1562.5 L1796.0 1562.3 L1798.0 1569.3 L1800.0 1571.2 L1802.0 1568.6 L1804.0 1571.5 L1806.0 1570.8 L1808.0 1567.1 L1810.0 1566.3 L1812.0 1567.9 L1814.0 1569.2 L1816.0 1573.9 L1818.0 1574.5 L1820.0 1571.4 L1822.0 1571.7 L1824.0 1570.7 L1826.0 1568.4 L1828.0 1566.7 L1830.0 1567.0 L1832.0 1571.5 L1834.0 1569.2 L1836.0 1570.5 L1838.0 1574.4 L1840.0 1572.5 L1842.0 1573.3 L1844.0 1576.4 L1846.0 1571.1 L1848.0 1570.6 L1850.0 1574.1 L1852.0 1571.2 L1854.0 1570.5 L1856.0 1571.6 L1858.0 1572.7 L1860.0 1571.9 L1862.0 1569.4 L1864.0 1568.7 L1866.0 1570.0 L1868.0 1573.0 L1870.0 1572.2 L1872.0 1569.7 L1874.0 1565.8 L1876.0 1567.4 L1878.0 1570.2 L1880.0 1573.9 L1882.0 1571.0 L1884.0 1571.3 L1886.0 1574.4 L1888.0 1575.7 L1890.0 1573.4 L1892.0 1568.1 L1894.0 1568.5 L1896.0 1571.2 L1898.0 1575.7 L1900.0 1574.0 L1902.0 1574.5 L1904.0 1576.8 L1906.0 1574.6 L1908.0 1573.7 L1910.0 1573.8 L1912.0 1571.3 L1914.0 1571.5 L1916.0 1574.0 L1918.0 1570.7 L1920.0 1568.2 L1922.0 1566.6 L1924.0 1568.7 L1926.0 1569.9 L1928.0 1570.2 L1930.0 1567.7 L1932.0 1567.7 L1934.0 1569.8 L1936.0 1568.5 L1938.0 1569.3 L1940.0 1572.1 L1942.0 1573.5 L1944.0 1571.5 L1946.0 1566.5 L1948.0 1570.2 L1950.0 1570.9 L1952.0 1569.0 L1954.0 1569.4 L1956.0 1570.9 L1958.0 1573.4 L1960.0 1574.3 L1962.0 1573.7 L1964.0 1571.8 L1965.7 1571.0"/>
<path clip-path="url(#plot)" stroke="#ff00ff" d="M188.0 1788.5 L190.0 1788.2 L192.0 1790.3 L194.0 1791.2 L196.0 1790.6 L198.0 1792.1 L200.0 1792.3 L202.0 1790.8 L204.0 1788.6 L206.0 1787.8 L208.0 1788.5 L210.0 1785.1 L212.0 1786.3 L214.0 1793.3 L216.0 1789.0 L218.0 1786.6 L220.0 1786.9 L222.0 1791.5 L224.0 1791.4 L226.0 1785.4 L228.0 1786.3 L230.0 1787.6 L232.0 1789.2 L234.0 1788.6 L236.0 1789.2 L238.0 1791.6 L240.0 1793.3 L242.0 1795.5 L244.0 1798.0 L246.0 1798.3 L248.0 1799.9 L250.0 1803.1 L252.0 1802.2 L254.0 1803.0 L256.0 1806.1 L258.0 1808.4 L260.0 1807.3 L262.0 1802.0 L264.0 1805.5 L266.0 1808.1 L268.0 1809.3 L270.0 1805.1 L272.0 1802.0 L274.0 1800.7 L276.0 1805.0 L278.0 1806.3 L280.0 1803.7 L282.0 1806.2 L284.0 1807.4 L286.0 1806.8 L288.0 1808.2 L290.0 1809.2 L292.0 1809.3 L294.0 1809.8 L296.0 1807.5 L298.0 1803.0 L300.0 1801.9 L302.0 1804.2 L304.0 1813.6 L306.0 1817.4 L308.0 1817.2 L310.0 1818.8 L312.0 1817.8 L314.0 1816.9 L316.0 1816.2 L318.0 1814.9 L320.0 1815.9 L322.0 1819.8 L324.0 1816.6 L326.0 1815.8 L328.0 1818.3 L330.0 1814.5 L332.0 1814.1 L334.0 1818.0 L336.0 1818.4 L338.0 1817.5 L340.0 1815.4 L342.0 1813.4 L344.0 1813.7 L346.0 1816.9 L348.0 1817.7 L350.0 1817.5 L352.0 1816.3 L354.0 1816.0 L356.0 1817.6 L358.0 1821.1 L360.0 1819.3 L362.0 1818.1 L364.0 1817.6 L366.0 1820.5 L368.0 1822.0 L370.0 1821.4 L372.0 1821.4 L374.0 1823.5 L376.0 1828.2 L378.0 1827.0 L380.0 1827.5 L382.0 1830.3 L384.0 1826.2 L386.0 1823.6 L388.0 1823.7 L390.0 1824.1 L392.0 1823.9 L394.0 1822.4 L396.0 1822.8 L398.0 1823.2 L400.0 1823.7 L402.0 1825.2 L404.0 1825.6 L406.0 1824.7 L408.0 1826.1 L410.0 1826.6 L412.0 1825.8 L414.0 1830.6 L416.0 1830.8 L418.0 1825.0 L420.0 1828.1 L422.0 1827.4 L424.0 1822.0 L426.0 1823.1 L428.0 1823.8 L430.0 1823.9 L432.0 1818.3 L434.0 1818.4 L436.0 1825.1 L438.0 1821.0 L440.0 1819.5 L442.0 1821.5 L444.0 1825.6 L446.0 1827.2 L448.0 1825.7 L450.0 1830.9 L452.0 1833.5 L454.0 1832.5 L456.0 1826.8 L458.0 1824.1 L460.0 1825.2 L462.0 1826.1 L464.0 1827.4 L466.0 1829.3 L468.0 1826.1 L470.0 1824.5 L472.0 1825.4 L474.0 1828.8 L476.0 1829.7 L478.0 1827.5 L480.0 1831.1 L482.0 1832.1 L484.0 1829.5 L486.0 1834.7 L488.0 1837.9 L490.0 1838.2 L492.0 1832.1 L494.0 1826.9 L496.0 1823.4 L498.0 1823.3 L500.0 1825.9 L502.0 1831.6 L504.0 1830.4 L506.0 1832.7 L508.0 1838.7 L510.0 1835.8 L512.0 1833.9 L514.0 1834.5 L516.0 1835.8 L518.0 1837.4 L520.0 1839.2 L522.0 1836.1 L524.0 1833.1 L526.0 1830.7 L528.0 1832.6 L530.0 1833.4 L532.0 1832.5 L534.0 1833.1 L536.0 1832.9 L538.0 1832.0 L540.0 1832.1 L542.0 1833.4 L544.0 1836.0 L546.0 1832.6 L548.0 1833.1 L550.0 1838.2 L552.0 1839.8 L554.0 1839.3 L556.0 1836.8 L558.0 1832.6 L560.0 1829.5 L562.0 1827.8 L564.0 1833.5 L566.0 1835.2 L568.0 1831.5 L570.0 1832.2 L572.0 1833.3 L574.0 1834.6 L576.0 1833.3 L578.0 1833.4 L580.0 1835.1 L582.0 1838.4 L584.0 1838.4 L586.0 1834.4 L588.0 1839.3 L590.0 1840.6 L592.0 1837.1 L594.0 1836.3 L596.0 1836.1 L598.0 1836.6 L600.0 1835.7 L602.0 1835.0 L604.0 1834.6 L606.0 1833.3 L608.0 1831.6 L610.0 1829.5 L612.0 1834.2 L614.0 1835.6 L616.0 1832.5 L618.0 1831.5 L620.0 1832.9 L622.0 1836.9 L624.0 1836.7 L626.0 1835.7 L628.0 1834.0 L630.0 1833.9 L632.0 1834.1 L634.0 1834.8 L636.0 1837.1 L638.0 1836.2 L640.0 1831.5 L642.0 1828.5 L644.0 1827.4 L646.0 1828.5 L648.0 1830.5 L650.0 1830.9 L652.0 1829.4 L654.0 1828.6 L656.0 1829.9 L658.0 1833.6 L660.0 1834.6 L662.0 1834.6 L664.0 1833.6 L666.0 1835.5 L668.0 1836.0 L670.0 1834.9 L672.0 1835.4 L674.0 1836.0 L676.0 1836.6 L678.0 1834.2 L680.0 1833.9 L682.0 1836.4 L684.0 1834.5 L686.0 1832.2 L688.0 1829.9 L690.0 1829.7 L692.0 1829.2 L694.0 1828.2 L696.0 1825.6 L698.0 1824.3 L700.0 1824.7 L702.0 1824.7 L704.0 1827.3 L706.0 1832.7 L708.0 1827.9 L710.0 1827.0 L712.0 1831.2 L714.0 1833.9 L716.0 1833.3 L718.0 1829.1 L720.0 1828.6 L722.0 1827.8 L724.0 1826.7 L726.0 1823.9 L728.0 1824.7 L730.0 1830.0 L732.0 1826.7 L734.0 1823.9 L736.0 1821.8 L738.0 1822.5 L740.0 1823.6 L742.0 1825.2 L744.0 1824.1 L746.0 1822.9 L748.0 1821.6 L750.0 1824.2 L752.0 1824.4 L754.0 1821.4 L756.0 1822.1 L758.0 1823.1 L760.0 1824.1 L762.0 1822.2 L764.0 1821.8 L766.0 1823.4 L768.0 1821.9 L770.0 1823.8 L772.0 1830.0 L774.0 1824.5 L776.0 1822.1 L778.0 1824.2 L780.0 1820.9 L782.0 1818.0 L784.0 1816.1 L786.0 1816.8 L788.0 1817.0 L790.0 1816.8 L792.0 1817.3 L794.0 1818.3 L796.0 1819.9 L798.0 1822.9 L800.0 1825.8 L802.0 1828.2 L804.0 1827.8 L806.0 1825.0 L808.0 1820.1 L810.0 1823.5 L812.0 1825.9 L814.0 1825.9 L816.0 1820.3 L818.0 1816.1 L820.0 1815.2 L822.0 1815.6 L824.0 1817.8 L826.0 1821.9 L828.0 1817.8 L830.0 1815.3 L832.0 1815.2 L834.0 1818.5 L836.0 1818.3 L838.0 1812.1 L840.0 1809.5 L842.0 1811.1 L844.0 1815.2 L846.0 1815.4 L848.0 1813.1 L850.0 1808.7 L852.0 1810.2 L854.0 1813.0 L856.0 1817.2 L858.0 1812.2 L860.0 1808.2 L862.0 1809.8 L864.0 1805.0 L866.0 1803.2 L868.0 1804.4 L870.0 1804.7 L872.0 1802.4 L874.0 1797.4 L876.0 1798.5 L878.0 1798.5 L880.0 1796.5 L882.0 1797.3 L884.0 1797.8 L886.0 1797.9 L888.0 1790.7 L890.0 1784.7 L892.0 1782.5 L894.0 1776.4 L896.0 1772.5 L898.0 1771.7 L900.0 1769.5 L902.0 1768.4 L904.0 1766.9 L906.0 1766.8 L908.0 1765.4 L910.0 1761.6 L912.0 1755.0 L914.0 1752.9 L916.0 1751.0 L918.0 1742.8 L920.2 1740.2 L922.0 1743.0 L924.0 1746.9 L926.0 1748.8 L928.0 1744.8 L930.0 1745.0 L932.0 1745.7 L934.0 1744.0 L936.0 1748.8 L938.0 1757.8 L940.0 1764.9 L942.0 1769.8 L944.0 1774.6 L946.0 1780.6 L948.0 1780.5 L950.0 1782.4 L952.0 1785.8 L954.0 1789.6 L956.0 1793.9 L958.0 1799.3 L960.0 1801.5 L962.0 1805.2 L964.0 1810.6 L966.0 1812.2 L968.0 1812.7 L970.0 1812.4 L972.0 1811.8 L974.0 1815.4 L976.0 1824.0 L978.0 1826.0 L980.0 1826.0 L982.0 1825.4 L984.0 1825.6 L986.0 1826.6 L988.0 1828.3 L990.0 1825.2 L992.0 1824.7 L994.0 1830.1 L996.0 1828.9 L998.0 1828.0 L1000.0 1827.9 L1002.0 1831.0 L1004.0 1832.7 L1006.0 1832.6 L1008.0 1833.8 L1010.0 1834.8 L1012.0 1836.6 L1014.0 1833.9 L1016.0 1833.5 L1018.0 1835.1 L1020.0 1837.5 L1022.0 1838.6 L1024.0 1839.0 L1026.0 1837.0 L1028.0 1835.3 L1030.0 1833.6 L1032.0 1839.1 L1034.0 1839.1 L1036.0 1832.2 L1038.0 1830.1 L1040.0 1828.8 L1042.0 1829.9 L1044.0 1838.2 L1046.0 1839.6 L1048.0 1834.1 L1050.0 1836.6 L1052.0 1839.9 L1054.0 1840.9 L1056.0 1843.6 L1058.0 1842.4 L1060.0 1836.3 L1062.0 1838.5 L1064.0 1839.8 L1066.0 1839.9 L1068.0 1841.7 L1070.0 1841.0 L1072.0 1837.3 L1074.0 1838.1 L1076.0 1838.4 L1078.0 1837.8 L1080.0 1841.4 L1082.0 1843.9 L1084.0 1844.8 L1086.0 1843.4 L1088.0 1844.0 L1090.0 1847.3 L1092.0 1844.4 L1094.0 1844.5 L1096.0 1848.5 L1098.0 1847.1 L1100.0 1846.5 L1102.0 1847.1 L1104.0 1849.3 L1106.0 1850.9 L1108.0 1852.2 L1110.0 1847.1 L1112.0 1843.3 L1114.0 1841.6 L1116.0 1840.5 L1118.0 1841.0 L1120.0 1844.1 L1122.0 1844.1 L1124.0 1846.4 L1126.0 1850.8 L1128.0 1853.1 L1130.0 1852.4 L1132.0 1848.7 L1134.0 1844.3 L1136.0 1842.2 L1138.0 1843.5 L1140.0 1840.6 L1142.0 1837.9 L1144.0 1835.8 L1146.0 1841.7 L1148.0 1846.1 L1150.0 1848.0 L1152.0 1847.1 L1154.0 1845.2 L1156.0 1842.0 L1158.0 1839.1 L1160.0 1839.9 L1162.0 1844.6 L1164.0 1848.7 L1166.0 1849.9 L1168.0 1847.1 L1170.0 1849.2 L1172.0 1847.4 L1174.0 1841.2 L1176.0 1842.9 L1178.0 1844.5 L1180.0 1844.9 L1182.0 1846.3 L1184.0 1846.2 L1186.0 1844.0 L1188.0 1847.5 L1190.0 1849.7 L1192.0 1850.2 L1194.0 1848.2 L1196.0 1845.6 L1198.0 1842.6 L1200.0 1843.1 L1202.0 1842.7 L1204.0 1840.9 L1206.0 1843.1 L1208.0 1845.3 L1210.0 1848.0 L1212.0 1848.9 L1214.0 1850.6 L1216.0 1852.7 L1218.0 1852.9 L1220.0 1852.6 L1222.0 1852.4 L1224.0 1846.6 L1226.0 1844.3 L1228.0 1847.2 L1230.0 1848.2 L1232.0 1847.8 L1234.0 1845.6 L1236.0 1849.1 L1238.0 1849.5 L1240.0 1845.6 L1242.0 1848.5 L1244.0 1849.2 L1246.0 1847.4 L1248.0 1847.4 L1250.0 1846.9 L1252.0 1846.1 L1254.0 1852.2 L1256.0 1852.9 L1258.0 1844.9 L1260.0 1844.9 L1262.0 1844.4 L1264.0 1843.8 L1266.0 1844.0 L1268.0 1845.2 L1270.0 1848.1 L1272.0 1852.7 L1274.0 1853.2 L1276.0 1849.3 L1278.0 1846.2 L1280.0 1843.7 L1282.0 1843.3 L1284.0 1848.5 L1286.0 1849.7 L1288.0 1845.7 L1290.0 1852.9 L1292.0 1856.6 L1294.0 1855.1 L1296.0 1853.0 L1298.0 1853.0 L1300.0 1855.4 L1302.0 1855.5 L1304.0 1852.8 L1306.0 1847.1 L1308.0 1845.0 L1310.0 1846.6 L1312.0 1852.5 L1314.0 1847.5 L1316.0 1846.9 L1318.0 1852.4 L1320.0 1854.7 L1322.0 1855.1 L1324.0 1853.0 L1326.0 1860.1 L1328.0 1864.5 L1330.0 1865.0 L1332.0 1866.0 L1334.0 1864.5 L1336.0 1860.3 L1338.0 1859.7 L1340.0 1858.9 L1342.0 1857.8 L1344.0 1856.4 L1346.0 1858.0 L1348.0 1863.2 L1350.0 1863.4 L1352.0 1864.6 L1354.0 1867.1 L1356.0 1865.5 L1358.0 1865.1 L1360.0 1866.9 L1362.0 1862.6 L1364.0 1860.5 L1366.0 1861.2 L1368.0 1864.6 L1370.0 1865.3 L1372.0 1862.6 L1374.0 1862.2 L1376.0 1862.5 L1378.0 1863.7 L1380.0 1860.2 L1382.0 1859.8 L1384.0 1863.3 L1386.0 1863.8 L1388.0 1863.0 L1390.0 1860.8 L1392.0 1858.6 L1394.0 1859.9 L1396.0 1865.6 L1398.0 1862.7 L1400.0 1859.4 L1402.0 1856.0 L1404.0 1856.7 L1406.0 1856.2 L1408.0 1854.4 L1410.0 1854.7 L1412.0 1855.2 L1414.0 1855.8 L1416.0 1859.0 L1418.0 1862.5 L1420.0 1866.1 L1422.0 1867.5 L1424.0 1867.5 L1426.0 1865.9 L1428.0 1867.4 L1430.0 1866.6 L1432.0 1863.7 L1434.0 1858.4 L1436.0 1855.7 L1438.0 1856.4 L1440.0 1859.0 L1442.0 1861.1 L1444.0 1862.4 L1446.0 1863.9 L1448.0 1862.6 L1450.0 1857.9 L1452.0 1857.2 L1454.0 1860.9 L1456.0 1869.9 L1458.0 1865.9 L1460.0 1864.7 L1462.0 1867.3 L1464.0 1864.6 L1466.0 1860.7 L1468.0 1856.2 L1470.0 1860.7 L1472.0 1862.7 L1474.0 1860.7 L1476.0 1862.8 L1478.0 1863.2 L1480.0 1861.4 L1482.0 1858.2 L1484.0 1857.4 L1486.0 1859.6 L1488.0 1862.0 L1490.0 1861.7 L1492.0 1858.3 L1494.0 1860.1 L1496.0 1862.2 L1498.0 1864.4 L1500.0 1859.6 L1502.0 1857.7 L1504.0 1859.5 L1506.0 1860.0 L1508.0 1860.1 L1510.0 1860.4 L1512.0 1857.1 L1514.0 1854.7 L1516.0 1853.4 L1518.0 1855.9 L1520.0 1856.3 L1522.0 1853.7 L1524.0 1855.7 L1526.0 1856.9 L1528.0 1856.7 L1530.0 1855.6 L1532.0 1856.0 L1534.0 1858.2 L1536.0 1859.0 L1538.0 1856.9 L1540.0 1851.6 L1542.0 1855.1 L1544.0 1856.6 L1546.0 1855.1 L1548.0 1854.7 L1550.0 1854.9 L1552.0 1855.5 L1554.0 1857.2 L1556.0 1856.5 L1558.0 1852.9 L1560.0 1851.5 L1562.0 1849.4 L1564.0 1846.5 L1566.0 1847.8 L1568.0 1848.6 L1570.0 1848.5 L1572.0 1846.3 L1574.0 1845.7 L1576.0 1846.9 L1578.0 1848.4 L1580.0 1850.0 L1582.0 1851.7 L1584.0 1848.0 L1586.0 1847.7 L1588.0 1852.2 L1590.0 1850.3 L1592.0 1849.0 L1594.0 1848.7 L1596.0 1848.1 L1598.0 1847.2 L1600.0 1844.6 L1602.0 1841.6 L1604.0 1841.7 L1606.0 1843.6 L1608.0 1844.4 L1610.0 1844.4 L1612.0 1843.7 L1614.0 1845.5 L1616.0 1846.7 L1618.0 1847.4 L1620.0 1844.4 L1622.0 1843.1 L1624.0 1844.0 L1626.0 1839.9 L1628.0 1834.7 L1630.0 1830.1 L1632.0 1833.4 L1634.0 1835.8 L1636.0 1836.4 L1638.0 1838.8 L1640.0 1841.0 L1642.0 1843.0 L1644.0 1839.5 L1646.0 1838.3 L1648.0 1840.3 L1650.0 1839.8 L1652.0 1838.3 L1654.0 1836.0 L1656.0 1836.7 L1658.0 1836.2 L1660.0 1834.3 L1662.0 1835.3 L1664.0 1831.2 L1666.0 1818.9 L1668.0 1813.9 L1670.0 1813.1 L1672.0 1812.4 L1674.0 1810.7 L1676.0 1810.9 L1678.0 1810.1 L1680.0 1805.3 L1682.0 1802.1 L1684.0 1796.7 L1686.0 1779.9 L1688.0 1765.7 L1690.0 1757.8 L1692.0 1741.2 L1694.0 1722.9 L1696.0 1707.2 L1698.0 1697.3 L1700.0 1683.5 L1702.0 1664.8 L1704.0 1650.1 L1706.0 1638.1 L1708.0 1631.5 L1710.0 1621.6 L1712.0 1612.8 L1714.0 1607.0 L1716.0 1603.0 L1717.6 1601.9 L1720.0 1605.7 L1722.0 1613.1 L1724.0 1622.7 L1726.0 1634.0 L1728.0 1654.8 L1730.0 1674.4 L1732.0 1687.4 L1734.0 1705.2 L1736.0 1721.4 L1738.0 1736.2 L1740.0 1752.9 L1742.0 1766.0 L1744.0 1775.9 L1746.0 1791.9 L1748.0 1803.6 L1750.0 1811.2 L1752.0 1818.3 L1754.0 1827.2 L1756.0 1837.4 L1758.0 1844.0 L1760.0 1846.7 L1762.0 1847.3 L1764.0 1847.9 L1766.0 1851.1 L1768.0 1857.7 L1770.0 1856.4 L1772.0 1857.5 L1774.0 1862.1 L1776.0 1863.6 L1778.0 1863.4 L1780.0 1860.6 L1782.0 1858.6 L1784.0 1861.9 L1786.0 1864.6 L1788.0 1864.3 L1790.0 1864.2 L1792.0 1864.4 L1794.0 1865.4 L1796.0 1863.1 L1798.0 1857.6 L1800.0 1865.2 L1802.0 1870.7 L1804.0 1870.7 L1806.0 1870.4 L1808.0 1869.1 L1810.0 1866.6 L1812.0 1867.7 L1814.0 1868.2 L1816.0 1867.7 L1818.0 1870.3 L1820.0 1872.0 L1822.0 1872.8 L1824.0 1874.7 L1826.0 1874.6 L1828.0 1871.6 L1830.0 1865.7 L1832.0 1862.5 L1834.0 1863.4 L1836.0 1865.7 L1838.0 1868.1 L1840.0 1870.3 L1842.0 1867.3 L1844.0 1867.1 L1846.0 1870.4 L1848.0 1871.5 L1850.0 1871.5 L1852.0 1870.4 L1854.0 1871.3 L1856.0 1874.1 L1858.0 1879.1 L1860.0 1874.6 L1862.0 1873.6 L1864.0 1877.3 L1866.0 1873.5 L1868.0 1870.0 L1870.0 1867.6 L1872.0 1869.8 L1874.0 1870.2 L1876.0 1868.3 L1878.0 1869.5 L1880.0 1868.7 L1882.0 1865.1 L1884.0 1871.4 L1886.0 1874.8 L1888.0 1874.2 L1890.0 1878.8 L1892.0 1881.0 L1894.0 1879.8 L1896.0 1879.4 L1898.0 1878.5 L1900.0 1877.0 L1902.0 1878.9 L1904.0 1879.4 L1906.0 1878.1 L1908.0 1876.7 L1910.0 1878.2 L1912.0 1883.2 L1914.0 1878.8 L1916.0 1876.9 L1918.0 1878.6 L1920.0 1879.5 L1922.0 1878.9 L1924.0 1876.6 L1926.0 1877.2 L1928.0 1877.7 L1930.0 1878.1 L1932.0 1879.7 L1934.0 1880.6 L1936.0 1880.5 L1938.0 1881.0 L1940.0 1881.1 L1942.0 1880.8 L1944.0 1879.7 L1946.0 1878.9 L1948.0 1878.2 L1950.0 1876.6 L1952.0 1875.5 L1954.0 1875.4 L1956.0 1875.6 L1957.0 1875.8"/>
<path clip-path="url(#plot)" stroke="#ffff00" d="M188.0 1950.5 L190.0 1953.6 L192.0 1956.2 L194.0 1962.6 L196.0 1968.0 L198.0 1965.7 L200.0 1962.7 L202.0 1962.3 L204.0 1962.8 L206.0 1965.8 L208.0 1969.5 L210.0 1968.1 L212.0 1967.2 L214.0 1969.5 L216.0 1972.5 L218.0 1975.9 L220.0 1979.6 L222.0 1979.8 L224.0 1979.1 L226.0 1984.3 L228.0 1991.2 L230.0 2003.7 L232.0 2018.0 L234.0 2015.8 L236.0 2004.1 L238.0 1995.0 L240.0 1986.8 L242.0 1984.3 L244.0 1993.1 L246.0 2002.1 L248.0 2011.0 L250.0 2013.5 L252.0 2014.4 L254.0 2019.1 L256.0 2025.0 L258.0 2026.0 L260.0 2023.4 L262.0 2016.2 L264.0 2007.6 L266.0 2005.6 L268.0 2011.4 L270.0 2014.1 L272.0 2015.8 L274.0 2019.4 L276.0 2023.9 L278.0 2034.1 L280.0 2045.6 L282.0 2047.1 L284.0 2045.5 L286.0 2051.1 L288.0 2053.6 L290.0 2052.2 L292.0 2049.6 L294.0 2051.1 L296.0 2053.9 L298.0 2048.2 L300.0 2042.2 L302.0 2042.3 L304.0 2051.0 L306.0 2054.4 L308.0 2056.1 L310.0 2057.9 L312.0 2058.6 L314.0 2067.3 L316.0 2079.2 L318.0 2079.9 L320.0 2077.3 L322.0 2071.1 L324.0 2066.3 L326.0 2066.7 L328.0 2073.5 L330.0 2081.3 L332.0 2089.5 L334.0 2083.4 L336.0 2077.3 L338.0 2073.9 L340.0 2075.5 L342.0 2084.4 L344.0 2095.5 L346.0 2089.3 L348.0 2080.6 L350.0 2079.7 L352.0 2084.1 L354.0 2087.5 L356.0 2090.6 L358.0 2099.8 L360.0 2107.3 L362.0 2101.2 L364.0 2093.0 L366.0 2084.5 L368.0 2093.8 L370.0 2106.0 L372.0 2119.2 L374.0 2125.3 L376.0 2123.3 L378.0 2118.4 L380.0 2112.7 L382.0 2108.5 L384.0 2114.7 L386.0 2119.6 L388.0 2119.9 L390.0 2116.3 L392.0 2111.6 L394.0 2110.4 L396.0 2110.4 L398.0 2108.5 L400.0 2106.1 L402.0 2104.6 L404.0 2105.3 L406.0 2112.0 L408.0 2117.3 L410.0 2127.6 L412.0 2139.4 L414.0 2136.3 L416.0 2133.0 L418.0 2132.4 L420.0 2132.6 L422.0 2123.4 L424.0 2111.4 L426.0 2115.4 L428.0 2122.9 L430.0 2120.3 L432.0 2114.6 L434.0 2117.7 L436.0 2123.6 L438.0 2129.8 L440.0 2134.4 L442.0 2131.2 L444.0 2122.0 L446.0 2122.6 L448.0 2126.2 L450.0 2124.3 L452.0 2120.7 L454.0 2120.5 L456.0 2122.3 L458.0 2123.2 L460.0 2123.8 L462.0 2125.6 L464.0 2127.7 L466.0 2125.2 L468.0 2121.4 L470.0 2124.1 L472.0 2127.2 L474.0 2127.2 L476.0 2126.5 L478.0 2127.8 L480.0 2129.8 L482.0 2128.4 L484.0 2126.1 L486.0 2125.9 L488.0 2125.5 L490.0 2129.8 L492.0 2136.1 L494.0 2135.6 L496.0 2133.1 L498.0 2133.8 L500.0 2134.3 L502.0 2136.4 L504.0 2139.0 L506.0 2132.7 L508.0 2123.9 L510.0 2126.5 L512.0 2131.0 L514.0 2137.0 L516.0 2143.5 L518.0 2138.2 L520.0 2129.8 L522.0 2127.3 L524.0 2126.6 L526.0 2121.4 L528.0 2121.5 L530.0 2126.4 L532.0 2131.8 L534.0 2137.5 L536.0 2136.5 L538.0 2130.6 L540.0 2131.3 L542.0 2137.3 L544.0 2142.4 L546.0 2141.1 L548.0 2140.3 L550.0 2135.2 L552.0 2128.7 L554.0 2128.5 L556.0 2131.1 L558.0 2135.5 L560.0 2138.9 L562.0 2142.8 L564.0 2146.9 L566.0 2140.0 L568.0 2131.0 L570.0 2128.4 L572.0 2127.9 L574.0 2125.0 L576.0 2121.5 L578.0 2128.0 L580.0 2135.4 L582.0 2139.8 L584.0 2143.4 L586.0 2143.6 L588.0 2142.6 L590.0 2140.1 L592.0 2131.9 L594.0 2126.2 L596.0 2121.3 L598.0 2118.1 L600.0 2124.4 L602.0 2130.7 L604.0 2136.1 L606.0 2144.7 L608.0 2148.1 L610.0 2150.6 L612.0 2152.8 L614.0 2149.7 L616.0 2145.0 L618.0 2141.8 L620.0 2137.3 L622.0 2136.6 L624.0 2136.9 L626.0 2136.8 L628.0 2135.3 L630.0 2133.2 L632.0 2130.9 L634.0 2131.3 L636.0 2132.5 L638.0 2129.0 L640.0 2124.0 L642.0 2125.3 L644.0 2128.6 L646.0 2130.7 L648.0 2132.7 L650.0 2132.9 L652.0 2132.7 L654.0 2139.3 L656.0 2148.0 L658.0 2151.0 L660.0 2149.7 L662.0 2142.3 L664.0 2133.1 L666.0 2130.2 L668.0 2129.2 L670.0 2135.7 L672.0 2144.2 L674.0 2145.3 L676.0 2144.1 L678.0 2146.3 L680.0 2149.5 L682.0 2147.2 L684.0 2143.2 L686.0 2142.1 L688.0 2142.2 L690.0 2144.2 L692.0 2146.9 L694.0 2151.5 L696.0 2156.7 L698.0 2155.5 L700.0 2152.4 L702.0 2154.4 L704.0 2157.8 L706.0 2154.7 L708.0 2150.9 L710.0 2141.2 L712.0 2129.8 L714.0 2125.2 L716.0 2122.5 L718.0 2124.4 L720.0 2125.7 L722.0 2133.8 L724.0 2143.9 L726.0 2150.1 L728.0 2146.3 L730.0 2144.1 L732.0 2143.0 L734.0 2141.6 L736.0 2143.3 L738.0 2143.5 L740.0 2143.0 L742.0 2144.1 L744.0 2144.9 L746.0 2141.9 L748.0 2138.3 L750.0 2133.2 L752.0 2131.6 L754.0 2138.1 L756.0 2146.6 L758.0 2151.7 L760.0 2152.3 L762.0 2150.0 L764.0 2147.9 L766.0 2144.7 L768.0 2141.9 L770.0 2141.8 L772.0 2142.1 L774.0 2140.4 L776.0 2138.2 L778.0 2135.8 L780.0 2133.2 L782.0 2139.2 L784.0 2146.2 L786.0 2146.4 L788.0 2144.4 L790.0 2146.3 L792.0 2142.4 L794.0 2140.0 L796.0 2137.9 L798.0 2136.3 L800.0 2134.8 L802.0 2132.0 L804.0 2128.7 L806.0 2125.8 L808.0 2127.1 L810.0 2132.0 L812.0 2136.8 L814.0 2141.3 L816.0 2142.0 L818.0 2141.2 L820.0 2139.9 L822.0 2142.2 L824.0 2145.6 L826.0 2145.4 L828.0 2143.5 L830.0 2140.7 L832.0 2139.5 L834.0 2131.6 L836.0 2121.8 L838.0 2123.6 L840.0 2128.7 L842.0 2130.0 L844.0 2130.1 L846.0 2134.3 L848.0 2139.7 L850.0 2138.0 L852.0 2133.9 L854.0 2132.1 L856.0 2131.4 L858.0 2133.6 L860.0 2136.6 L862.0 2135.6 L864.0 2133.3 L866.0 2134.6 L868.0 2137.0 L870.0 2135.5 L872.0 2132.9 L874.0 2136.0 L876.0 2139.6 L878.0 2143.1 L880.0 2146.4 L882.0 2147.2 L884.0 2140.0 L886.0 2134.3 L888.0 2129.7 L890.0 2124.7 L892.0 2128.2 L894.0 2138.6 L896.0 2148.4 L898.0 2158.3 L900.0 2156.8 L902.0 2152.5 L904.0 2147.4 L906.0 2150.3 L908.0 2155.6 L910.0 2154.9 L912.0 2150.5 L914.0 2144.6 L916.0 2138.1 L918.0 2135.8 L920.0 2134.7 L922.0 2129.2 L924.0 2124.3 L926.0 2125.6 L928.0 2127.6 L930.0 2132.5 L932.0 2138.3 L934.0 2142.4 L936.0 2145.7 L938.0 2148.1 L940.0 2150.2 L942.0 2150.5 L944.0 2150.3 L946.0 2151.5 L948.0 2152.3 L950.0 2151.2 L952.0 2150.1 L954.0 2150.9 L956.0 2152.4 L958.0 2148.9 L960.0 2141.8 L962.0 2138.2 L964.0 2135.6 L966.0 2135.2 L968.0 2135.5 L970.0 2129.4 L972.0 2125.0 L974.0 2127.4 L976.0 2131.9 L978.0 2135.2 L980.0 2138.1 L982.0 2137.4 L984.0 2135.6 L986.0 2137.4 L988.0 2139.2 L990.0 2138.0 L992.0 2135.8 L994.0 2137.0 L996.0 2139.2 L998.0 2136.0 L1000.0 2131.0 L1002.0 2129.8 L1004.0 2135.5 L1006.0 2140.2 L1008.0 2144.6 L1010.0 2148.1 L1012.0 2151.5 L1014.0 2148.9 L1016.0 2146.6 L1018.0 2145.8 L1020.0 2145.5 L1022.0 2144.8 L1024.0 2144.0 L1026.0 2138.5 L1028.0 2132.4 L1030.0 2129.7 L1032.0 2128.0 L1034.0 2125.7 L1036.0 2123.5 L1038.0 2122.8 L1040.0 2122.5 L1042.0 2120.7 L1044.0 2122.8 L1046.0 2131.8 L1048.0 2141.6 L1050.0 2148.7 L1052.0 2147.2 L1054.0 2144.6 L1056.0 2141.7 L1058.0 2140.0 L1060.0 2138.5 L1062.0 2141.8 L1064.0 2147.8 L1066.0 2150.5 L1068.0 2150.9 L1070.0 2153.5 L1072.0 2156.7 L1074.0 2157.3 L1076.0 2158.7 L1078.0 2152.6 L1080.0 2144.3 L1082.0 2142.9 L1084.0 2143.6 L1086.0 2144.9 L1088.0 2146.5 L1090.0 2145.0 L1092.0 2142.2 L1094.0 2141.0 L1096.0 2140.2 L1098.0 2138.3 L1100.0 2136.2 L1102.0 2136.6 L1104.0 2138.9 L1106.0 2143.8 L1108.0 2149.6 L1110.0 2153.2 L1112.0 2156.2 L1114.0 2154.4 L1116.0 2147.4 L1118.0 2142.7 L1120.0 2139.2 L1122.0 2134.0 L1124.0 2128.3 L1126.0 2126.1 L1128.0 2124.8 L1130.0 2120.7 L1132.0 2116.1 L1134.0 2119.1 L1136.0 2122.8 L1138.0 2126.7 L1140.0 2130.6 L1142.0 2130.4 L1144.0 2128.9 L1146.0 2130.3 L1148.0 2130.6 L1150.0 2128.0 L1152.0 2124.6 L1154.0 2125.2 L1156.0 2129.5 L1158.0 2145.2 L1160.0 2152.2 L1162.0 2149.7 L1164.0 2146.6 L1166.0 2144.7 L1168.0 2143.1 L1170.0 2144.6 L1172.0 2146.0 L1174.0 2141.0 L1176.0 2134.2 L1178.0 2134.0 L1180.0 2135.9 L1182.0 2135.4 L1184.0 2136.6 L1186.0 2134.1 L1188.0 2129.9 L1190.0 2134.9 L1192.0 2142.6 L1194.0 2147.1 L1196.0 2150.5 L1198.0 2150.7 L1200.0 2149.3 L1202.0 2145.1 L1204.0 2140.0 L1206.0 2139.8 L1208.0 2141.2 L1210.0 2140.2 L1212.0 2139.3 L1214.0 2138.7 L1216.0 2138.1 L1218.0 2136.1 L1220.0 2133.5 L1222.0 2134.4 L1224.0 2136.2 L1226.0 2136.4 L1228.0 2139.3 L1230.0 2151.2 L1232.0 2155.2 L1234.0 2148.5 L1236.0 2140.2 L1238.0 2135.3 L1240.0 2131.4 L1242.0 2126.8 L1244.0 2126.0 L1246.0 2131.6 L1248.0 2138.2 L1250.0 2138.3 L1252.0 2136.4 L1254.0 2139.2 L1256.0 2140.6 L1258.0 2141.3 L1260.0 2142.3 L1262.0 2140.2 L1264.0 2137.2 L1266.0 2135.0 L1268.0 2133.0 L1270.0 2133.0 L1272.0 2133.5 L1274.0 2134.3 L1276.0 2135.3 L1278.0 2136.1 L1280.0 2134.3 L1282.0 2133.1 L1284.0 2132.3 L1286.0 2129.1 L1288.0 2128.4 L1290.0 2128.3 L1292.0 2127.3 L1294.0 2130.4 L1296.0 2134.6 L1298.0 2142.1 L1300.0 2146.9 L1302.0 2145.2 L1304.0 2142.7 L1306.0 2136.9 L1308.0 2130.2 L1310.0 2125.4 L1312.0 2122.9 L1314.0 2125.4 L1316.0 2129.4 L1318.0 2128.7 L1320.0 2127.9 L1322.0 2132.9 L1324.0 2138.1 L1326.0 2141.0 L1328.0 2143.3 L1330.0 2148.5 L1332.0 2146.3 L1334.0 2142.7 L1336.0 2138.7 L1338.0 2138.0 L1340.0 2138.3 L1342.0 2137.5 L1344.0 2137.3 L1346.0 2136.3 L1348.0 2134.2 L1350.0 2132.5 L1352.0 2131.0 L1354.0 2133.5 L1356.0 2137.3 L1358.0 2138.7 L1360.0 2139.4 L1362.0 2136.2 L1364.0 2131.4 L1366.0 2130.2 L1368.0 2130.2 L1370.0 2128.9 L1372.0 2127.3 L1374.0 2122.9 L1376.0 2122.7 L1378.0 2124.5 L1380.0 2126.7 L1382.0 2127.2 L1384.0 2126.9 L1386.0 2132.4 L1388.0 2139.6 L1390.0 2142.5 L1392.0 2138.8 L1394.0 2134.4 L1396.0 2130.4 L1398.0 2123.9 L1400.0 2116.8 L1402.0 2119.0 L1404.0 2126.9 L1406.0 2129.8 L1408.0 2131.2 L1410.0 2138.1 L1412.0 2146.7 L1414.0 2146.8 L1416.0 2138.8 L1418.0 2132.0 L1420.0 2125.5 L1422.0 2122.7 L1424.0 2126.2 L1426.0 2128.6 L1428.0 2130.4 L1430.0 2132.2 L1432.0 2134.0 L1434.0 2134.7 L1436.0 2133.4 L1438.0 2131.2 L1440.0 2128.7 L1442.0 2125.9 L1444.0 2124.4 L1446.0 2128.7 L1448.0 2133.3 L1450.0 2135.8 L1452.0 2137.5 L1454.0 2137.9 L1456.0 2137.9 L1458.0 2143.1 L1460.0 2144.7 L1462.0 2141.4 L1464.0 2136.4 L1466.0 2131.6 L1468.0 2126.7 L1470.0 2124.1 L1472.0 2121.5 L1474.0 2122.9 L1476.0 2125.6 L1478.0 2125.5 L1480.0 2124.6 L1482.0 2126.9 L1484.0 2130.9 L1486.0 2130.7 L1488.0 2129.1 L1490.0 2134.5 L1492.0 2142.0 L1494.0 2140.1 L1496.0 2133.3 L1498.0 2129.5 L1500.0 2126.6 L1502.0 2120.8 L1504.0 2114.1 L1506.0 2110.5 L1508.0 2114.4 L1510.0 2129.4 L1512.0 2147.7 L1514.0 2157.0 L1516.0 2153.4 L1518.0 2148.0 L1520.0 2142.0 L1522.0 2140.5 L1524.0 2140.5 L1526.0 2142.8 L1528.0 2146.4 L1530.0 2146.3 L1532.0 2145.2 L1534.0 2142.2 L1536.0 2137.3 L1538.0 2134.7 L1540.0 2133.4 L1542.0 2134.2 L1544.0 2135.5 L1546.0 2135.6 L1548.0 2143.5 L1550.0 2148.3 L1552.0 2152.0 L1554.0 2157.3 L1556.0 2158.5 L1558.0 2159.4 L1560.0 2161.0 L1562.0 2160.6 L1564.0 2159.7 L1566.0 2161.6 L1568.0 2163.0 L1570.0 2156.7 L1572.0 2148.5 L1574.0 2144.0 L1576.0 2140.6 L1578.0 2136.9 L1580.0 2134.0 L1582.0 2135.4 L1584.0 2138.0 L1586.0 2133.3 L1588.0 2126.5 L1590.0 2124.1 L1592.0 2123.3 L1594.0 2119.7 L1596.0 2115.1 L1598.0 2114.2 L1600.0 2117.9 L1602.0 2121.4 L1604.0 2124.1 L1606.0 2125.3 L1608.0 2126.1 L1610.0 2130.7 L1612.0 2137.8 L1614.0 2141.5 L1616.0 2142.2 L1618.0 2144.5 L1620.0 2147.6 L1622.0 2152.9 L1624.0 2158.8 L1626.0 2160.3 L1628.0 2157.1 L1630.0 2148.7 L1632.0 2139.6 L1634.0 2135.9 L1636.0 2137.8 L1638.0 2137.0 L1640.0 2135.5 L1642.0 2136.8 L1644.0 2139.1 L1646.0 2136.7 L1648.0 2133.0 L1650.0 2132.4 L1652.0 2132.6 L1654.0 2135.2 L1656.0 2139.2 L1658.0 2136.3 L1660.0 2130.9 L1662.0 2135.6 L1664.0 2143.4 L1666.0 2143.2 L1668.0 2140.5 L1670.0 2140.9 L1672.0 2140.5 L1674.0 2138.3 L1676.0 2135.6 L1678.0 2129.9 L1680.0 2123.3 L1682.0 2123.5 L1684.0 2127.8 L1686.0 2132.2 L1688.0 2134.6 L1690.0 2141.6 L1692.0 2150.1 L1694.0 2152.2 L1696.0 2136.6 L1698.0 2132.0 L1700.0 2130.7 L1702.0 2126.8 L1704.0 2126.1 L1706.0 2126.6 L1708.0 2127.6 L1710.0 2131.1 L1712.0 2135.2 L1714.0 2137.0 L1716.0 2137.3 L1718.0 2138.4 L1720.0 2140.2 L1722.0 2137.9 L1724.0 2134.2 L1726.0 2133.1 L1728.0 2132.9 L1730.0 2133.8 L1732.0 2135.0 L1734.0 2135.1 L1736.0 2134.7 L1738.0 2134.7 L1740.0 2134.6 L1742.0 2137.2 L1744.0 2140.6 L1746.0 2138.6 L1748.0 2135.1 L1750.0 2139.0 L1752.0 2145.2 L1754.0 2148.2 L1756.0 2150.2 L1758.0 2146.4 L1760.0 2138.5 L1762.0 2139.2 L1764.0 2142.4 L1766.0 2140.8 L1768.0 2137.8 L1770.0 2136.8 L1772.0 2137.1 L1774.0 2136.0 L1776.0 2133.5 L1778.0 2135.5 L1780.0 2138.8 L1782.0 2139.6 L1784.0 2139.6 L1786.0 2144.3 L1788.0 2150.4 L1790.0 2153.7 L1792.0 2156.1 L1794.0 2148.9 L1796.0 2135.2 L1798.0 2124.3 L1800.0 2132.1 L1802.0 2130.7 L1804.0 2126.4 L1806.0 2128.7 L1808.0 2133.0 L1810.0 2133.5 L1812.0 2131.9 L1814.0 2132.5 L1816.0 2134.5 L1818.0 2134.0 L1820.0 2130.6 L1822.0 2136.9 L1824.0 2146.1 L1826.0 2145.0 L1828.0 2140.0 L1830.0 2137.3 L1832.0 2135.4 L1834.0 2127.1 L1836.0 2118.8 L1838.0 2124.8 L1840.0 2134.0 L1842.0 2135.2 L1844.0 2133.9 L1846.0 2135.3 L1848.0 2137.4 L1850.0 2140.9 L1852.0 2144.8 L1854.0 2144.9 L1856.0 2143.8 L1858.0 2142.7 L1860.0 2141.7 L1862.0 2144.3 L1864.0 2145.6 L1866.0 2142.9 L1868.0 2140.7 L1870.0 2133.2 L1872.0 2124.1 L1874.0 2124.5 L1876.0 2125.9 L1878.0 2135.9 L1880.0 2148.6 L1882.0 2143.1 L1884.0 2128.9 L1886.0 2125.4 L1888.0 2125.0 L1890.0 2127.5 L1892.0 2128.4 L1894.0 2132.6 L1896.0 2137.7 L1898.0 2137.6 L1900.0 2133.5 L1902.0 2133.7 L1904.0 2135.5 L1906.0 2133.9 L1908.0 2131.2 L1910.0 2130.6 L1912.0 2130.5 L1914.0 2135.1 L1916.0 2142.0 L1918.0 2145.6 L1920.0 2148.2 L1922.0 2150.1 L1924.0 2151.7 L1926.0 2149.0 L1928.0 2142.4 L1930.0 2140.3 L1932.0 2139.6 L1934.0 2136.4 L1936.0 2137.1 L1938.0 2134.9 L1940.0 2131.8 L1942.0 2137.1 L1942.8 2140.2"/>
</g>
<g filter="url(#bin)">
<text class="tick" transform="translate(188.5 2296.2) scale(0.963 1)">970</text>
<text class="tick" transform="translate(388.1 2296.2) scale(0.963 1)">965</text>
<text class="tick" transform="translate(587.7 2296.2) scale(0.963 1)">960</text>
<text class="tick" transform="translate(787.3 2296.2) scale(0.963 1)">955</text>
<text class="tick" transform="translate(986.9 2296.2) scale(0.963 1)">950</text>
<text class="tick" transform="translate(1186.6 2296.2) scale(0.963 1)">945</text>
<text class="tick" transform="translate(1386.2 2296.2) scale(0.963 1)">940</text>
<text class="tick" transform="translate(1585.8 2296.2) scale(0.963 1)">935</text>
<text class="tick" transform="translate(1785.4 2296.2) scale(0.963 1)">930</text>
<text class="tick" transform="translate(1985.0 2296.2) scale(0.963 1)">925</text>
<text class="lab" transform="translate(1913.7 292.9) scale(0.953 1)">A</text>
<text class="lab" transform="translate(1920.9 606.0) scale(0.953 1)">B</text>
<text class="lab" transform="translate(1903.6 911.4) scale(0.953 1)">C</text>
<text class="lab" transform="translate(1912.0 1224) scale(0.953 1)">D</text>
<text class="lab" transform="translate(1916 1535.9) scale(0.953 1)">E</text>
<text class="lab" transform="translate(1911 1840) scale(0.953 1)">F</text>
<text class="lab" transform="translate(1890.9 2098.8) scale(0.953 1)">G</text>
<text class="ttl" font-size="83" transform="translate(1090.9 2411.0) scale(0.9435 1)">Binding Energy (eV)</text>
<text class="ttl" font-size="83.5" transform="translate(79.7 1058.3) rotate(-90) scale(0.984 1)">Intensity (a. u.)</text>
</g>
</svg></body></html>
